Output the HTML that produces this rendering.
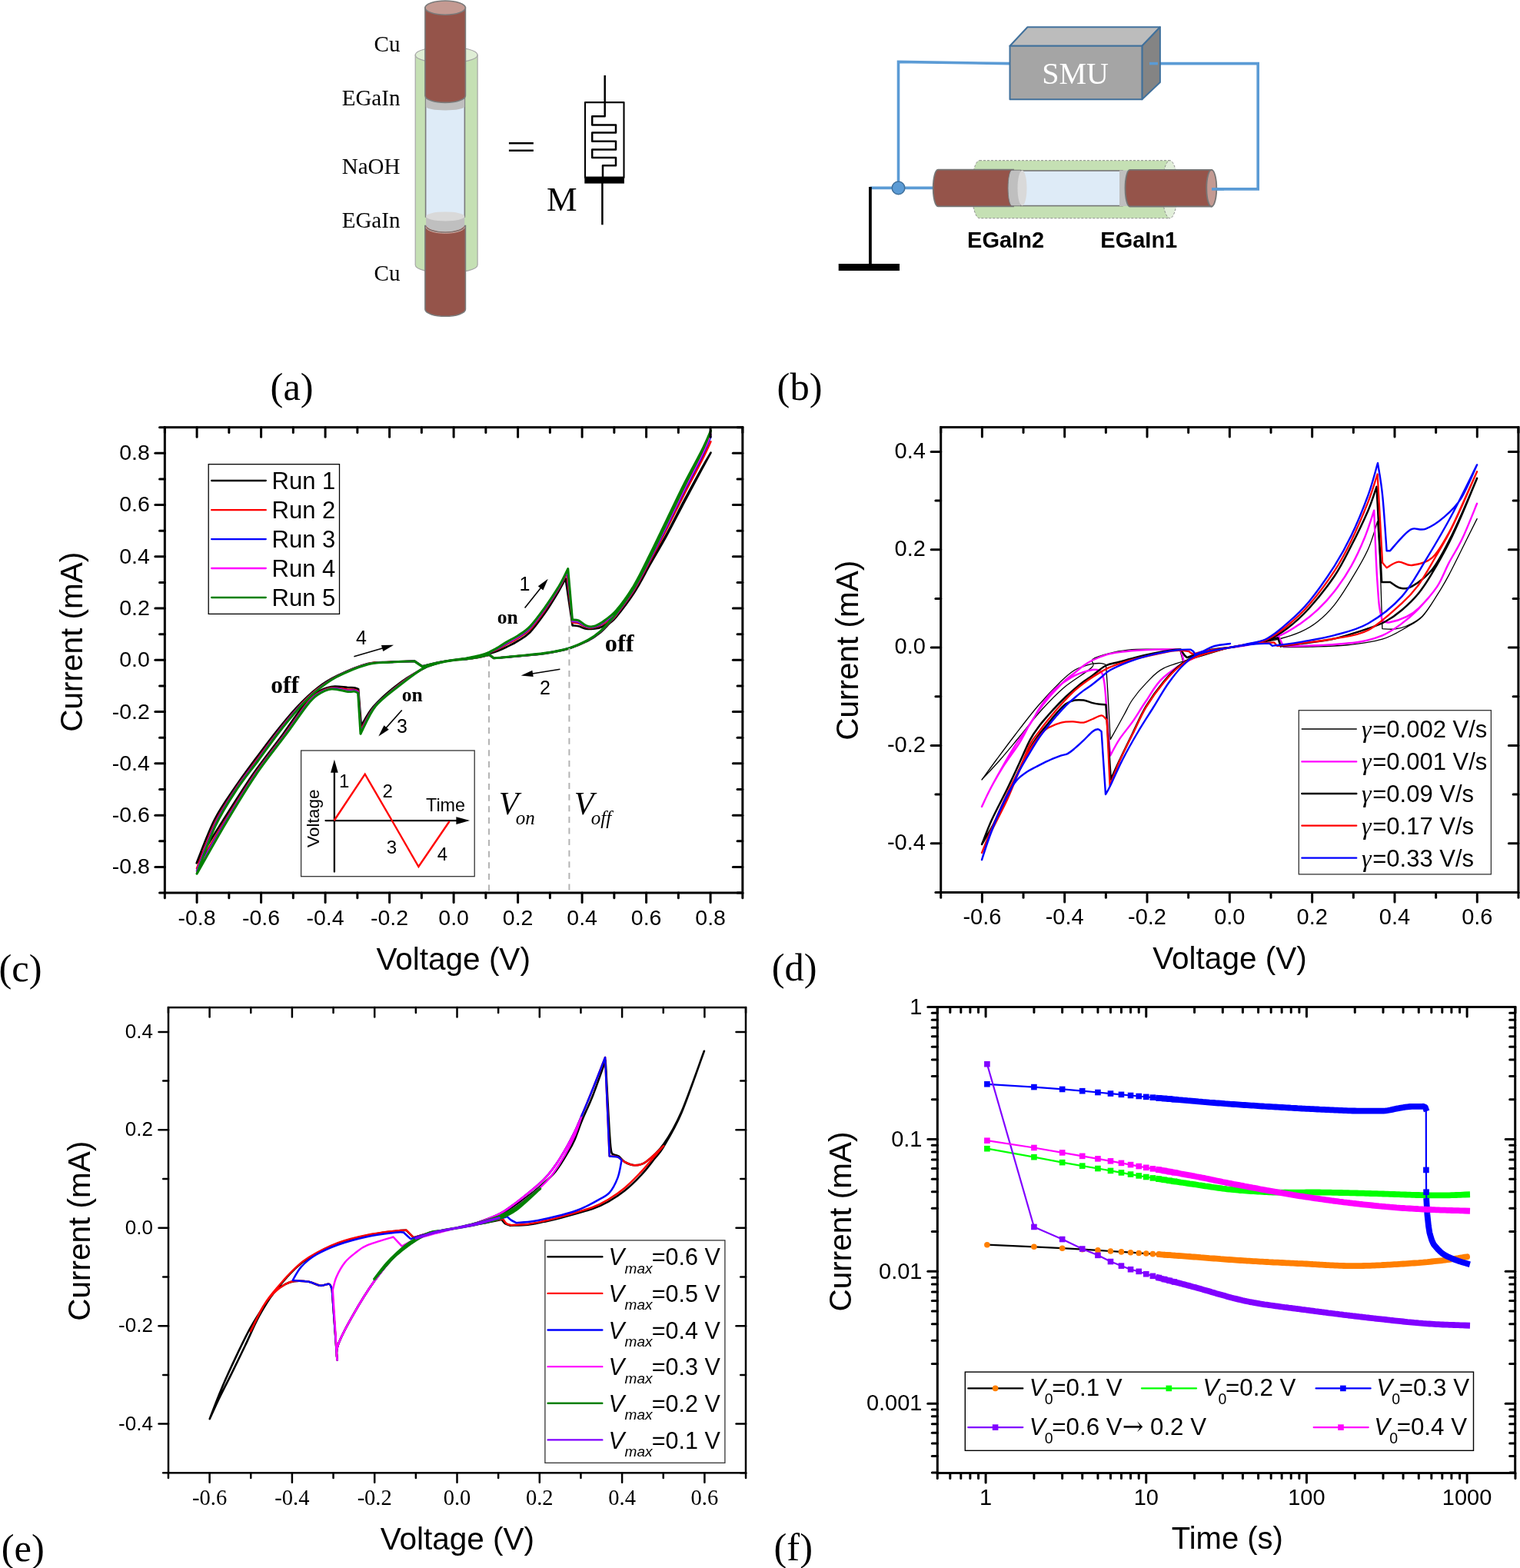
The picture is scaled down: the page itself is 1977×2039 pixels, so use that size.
<!DOCTYPE html>
<html><head><meta charset="utf-8"><title>Figure</title><style>html,body{margin:0;padding:0;background:#fff;overflow:hidden}svg{display:block}</style></head><body>
<svg width="1977" height="2039" viewBox="0 0 1977 2039">
<rect width="1977" height="2039" fill="#fff"/>
<path d="M540.1999999999999,71.4 L540.1999999999999,344.5 A40.45,10.5 0 0 0 621.1,344.5 L621.1,71.4 Z" fill="#c5e0b4" stroke="#a5a5a5" stroke-width="1.2"/>
<ellipse cx="580.65" cy="71.4" rx="40.45" ry="10.5" fill="#dfeed5" stroke="#a5a5a5" stroke-width="1.2"/>
<rect x="553.6" y="128" width="50.8" height="154" fill="#deebf7" stroke="#7a7a7a" stroke-width="1.6"/>
<path d="M553.9,124 L553.9,138.3 A25.15,5.1 0 0 0 604.2,138.3 L604.2,124 Z" fill="#bfbfbf"/>
<path d="M552.9,10.1 L552.9,124.4 A26.25,9 0 0 0 605.4,124.4 L605.4,10.1 Z" fill="#95544a" stroke="#7a7a7a" stroke-width="1.6"/>
<ellipse cx="579.15" cy="10.1" rx="26.25" ry="9.1" fill="#c49a92" stroke="#7a7a7a" stroke-width="1.6"/>
<path d="M552.9,293.5 L552.9,402.3 A26.25,9 0 0 0 605.4,402.3 L605.4,293.5 Z" fill="#95544a" stroke="#7a7a7a" stroke-width="1.6"/>
<path d="M554.1,281.4 L554.1,292.4 A25.05,9 0 0 0 604.2,292.4 L604.2,281.4 Z" fill="#bfbfbf"/>
<path d="M552.9,293.5 A26.25,9 0 0 0 605.4,293.5" fill="none" stroke="#7a7a7a" stroke-width="1.6"/>
<path d="M554.1,295.3 A25.05,8 0 0 0 604.1999999999999,295.3" fill="none" stroke="#d8a89e" stroke-width="1"/>
<ellipse cx="579.15" cy="281.4" rx="25.05" ry="6" fill="#d9d9d9"/>
<text x="520.4" y="67" font-family="'Liberation Serif', 'Times New Roman', serif" font-size="29" text-anchor="end" >Cu</text>
<text x="520.4" y="137" font-family="'Liberation Serif', 'Times New Roman', serif" font-size="29" text-anchor="end" >EGaIn</text>
<text x="520.4" y="226.1" font-family="'Liberation Serif', 'Times New Roman', serif" font-size="29" text-anchor="end" >NaOH</text>
<text x="520.4" y="295.6" font-family="'Liberation Serif', 'Times New Roman', serif" font-size="29" text-anchor="end" >EGaIn</text>
<text x="520.4" y="365" font-family="'Liberation Serif', 'Times New Roman', serif" font-size="29" text-anchor="end" >Cu</text>
<text x="0" y="0" font-family="'Liberation Serif', 'Times New Roman', serif" font-size="48" transform="translate(658.5,206.8) scale(1.43,1)">=</text>
<g fill="none" stroke="#000" stroke-linejoin="round">
<rect x="761" y="133.1" width="50.5" height="98" stroke-width="2.1"/>
<rect x="760.3" y="229.6" width="51.6" height="9" fill="#000" stroke="none"/>
<path d="M786.7,98 L786.7,151.3 L770.2,151.3 L770.2,162.5 L801,162.5 L801,172.6 L770.2,172.6 L770.2,183.8 L801,183.8 L801,194.5 L770.2,194.5 L770.2,205.1 L801,205.1 L801,215.2 L784,215.2 L784,230" stroke-width="2.5"/>
<line x1="783.4" y1="238" x2="783.4" y2="292.3" stroke-width="2.5"/>
</g>
<text x="711" y="273.6" font-family="'Liberation Serif', 'Times New Roman', serif" font-size="44.5" >M</text>
<path d="M1313.5,82.6 L1168.5,80.4 L1168.5,244.4" fill="none" stroke="#5b9bd5" stroke-width="3.6"/>
<path d="M1495,82.6 L1636.2,82.6 L1636.2,245.9 L1576,245.9" fill="none" stroke="#5b9bd5" stroke-width="3.6"/>
<line x1="1131.9" y1="244.4" x2="1216" y2="244.4" stroke="#5b9bd5" stroke-width="3.6"/>
<line x1="1131.9" y1="243" x2="1131.9" y2="345" stroke="#000" stroke-width="3.8"/>
<rect x="1090.7" y="343" width="79.3" height="9" fill="#000"/>
<circle cx="1168.5" cy="244.4" r="8.3" fill="#5b9bd5" stroke="#41719c" stroke-width="1.5"/>
<g stroke="#41719c" stroke-width="2" stroke-linejoin="round">
<polygon points="1313.5,59.7 1336.4,35.3 1508.9,35.3 1485.4,59.7" fill="#bcbcbc"/>
<polygon points="1485.4,59.7 1508.9,35.3 1508.9,107 1485.4,129.3" fill="#848484"/>
<rect x="1313.5" y="59.7" width="171.9" height="69.6" fill="#a5a5a5"/>
</g>
<line x1="1495" y1="82.6" x2="1506" y2="82.6" stroke="#5b9bd5" stroke-width="3.6"/>
<text x="1355.2" y="109.1" font-family="'Liberation Serif', 'Times New Roman', serif" font-size="40" fill="#ffffff" >SMU</text>
<path d="M1274,208.7 L1521.6,208.7 L1521.6,283.8 L1274,283.8 A10,37.55 0 0 1 1274,208.7 Z" fill="#c5e0b4" stroke="#8c8c8c" stroke-width="1" stroke-dasharray="3,2"/>
<ellipse cx="1521.6" cy="246.25" rx="10" ry="37.55" fill="#e2efda" stroke="#8c8c8c" stroke-width="1" stroke-dasharray="3,2"/>
<path d="M1220,220.7 L1318,220.7 L1318,268.3 L1220,268.3 A6.3,23.8 0 0 1 1220,220.7 Z" fill="#95544a" stroke="#767676" stroke-width="1.8"/>
<rect x="1328" y="222" width="132" height="45.6" fill="#deebf7" stroke="#767676" stroke-width="1.6"/>
<path d="M1316,221.2 L1328,221.2 L1328,267.8 L1316,267.8 A5,23.3 0 0 1 1316,221.2 Z" fill="#bfbfbf" stroke="#767676" stroke-width="1"/>
<ellipse cx="1329.5" cy="244.5" rx="6" ry="23" fill="#d9d9d9"/>
<rect x="1456" y="221.5" width="13" height="46.5" fill="#bfbfbf"/>
<path d="M1469.5,220.9 L1575.8,220.9 L1575.8,268.5 L1469.5,268.5 A6,23.8 0 0 1 1469.5,220.9 Z" fill="#95544a" stroke="#767676" stroke-width="1.8"/>
<ellipse cx="1575.8" cy="244.7" rx="6.5" ry="23.8" fill="#c49a92" stroke="#767676" stroke-width="1.8"/>
<line x1="1576" y1="245.9" x2="1592" y2="245.9" stroke="#5b9bd5" stroke-width="3.6"/>
<text x="1258.1" y="322.2" font-family="'Liberation Sans', Arial, sans-serif" font-size="29" font-weight="bold" >EGaIn2</text>
<text x="1431.3" y="322.2" font-family="'Liberation Sans', Arial, sans-serif" font-size="29" font-weight="bold" >EGaIn1</text>
<text x="351.6" y="520.3" font-family="'Liberation Serif', 'Times New Roman', serif" font-size="50.5" >(a)</text>
<text x="1010.6" y="520.3" font-family="'Liberation Serif', 'Times New Roman', serif" font-size="50.5" >(b)</text>
<path d="M590.1,858.4C592.9,858 601.2,857.1 606.8,856.3C612.4,855.5 618.6,854.7 623.5,853.6C628.4,852.6 632.3,851.2 636.4,849.9C640.6,848.7 644.8,847.4 648.6,845.9C652.3,844.4 654.8,843.3 659,841.2C663.2,839.1 668.5,836.7 673.6,833.5C678.7,830.3 683.7,828 689.5,822C695.2,816.1 702.2,806.4 708.3,797.8C714.3,789.2 721.2,777.9 725.8,770.2C730.3,762.6 734,755.1 735.6,752.1C737.1,762.3 743.1,803.1 744.6,813.3C745.9,813.5 749.5,813.6 752.5,814.3C755.5,815 759.3,817.1 762.5,817.7C765.7,818.2 768.3,818.1 771.7,817.7C775.1,817.2 778,817.7 783,815C787.9,812.2 794.5,808.6 801.4,801.2C808.2,793.7 816.9,781.7 824.3,770.2C831.7,758.7 838.5,744.8 845.6,732.2C852.7,719.6 859.7,708.2 867.1,694.6C874.5,681 882.5,664.8 890.1,650.5C897.7,636.2 907.1,619.1 912.8,608.8C918.6,598.5 922.6,592 924.5,588.6C922.6,592.2 918.6,599.5 912.8,610.2C907.1,620.8 897.7,638.2 890.1,652.5C882.5,666.9 874.5,682.7 867.1,696.3C859.7,709.8 852.7,721.4 845.6,733.9C838.5,746.5 831.7,760.2 824.3,771.6C816.9,783 806.6,796.1 801.4,802.5C796.1,809 796.4,807 793,810.3C789.6,813.6 785.6,818.5 780.9,822.4C776.2,826.2 771.4,829.8 764.6,833.3C757.8,836.8 749.4,840.6 740,843.4C730.6,846.1 719.7,848.1 708.3,849.8C696.8,851.4 682.5,852.3 671.5,853.4C660.5,854.4 647.2,855.6 642.3,856C641.3,855.3 637.4,852.4 636.4,851.6C634.3,852.1 628.4,853.8 623.5,854.7C618.6,855.5 612.4,856.4 606.8,857C601.2,857.6 596.4,857.5 590.1,858.4C583.8,859.2 576.2,860.4 569.2,862.4C562.3,864.4 557.4,865.5 548.4,870.5C539.3,875.4 525.4,883.9 515,892C504.5,900.1 493.2,910.3 485.7,918.9C478.2,927.5 472.5,939.6 469.9,943.8C469.2,935.8 466.7,904 466.1,896C465.2,895.7 463,894.7 460.7,894.3C458.4,894 457.3,894.2 452.3,894C447.4,893.8 438,891.8 431,893C424.1,894.2 416.4,897.6 410.6,901.4C404.7,905.2 403,906.7 396,915.5C388.9,924.3 379.6,938.9 368.4,954.2C357.2,969.5 342,988.3 328.7,1007.3C315.5,1026.4 301.3,1049.4 289.1,1068.5C276.9,1087.7 261.2,1113.4 255.7,1122.3C259.6,1112.9 270.6,1082.4 279.1,1065.8C287.5,1049.3 297.2,1036.4 306.2,1023.1C315.2,1009.9 324.1,998.1 332.9,986.1C341.8,974.2 350.4,962.5 359.2,951.5C368.1,940.5 377,929.4 385.9,919.9C394.8,910.4 403.8,901.6 412.7,894.7C421.5,887.8 428,883.8 439,878.5C449.9,873.3 466.9,866 478.2,863.1C489.5,860.1 496.4,861.4 506.6,860.9C516.8,860.3 533.7,859.9 539.2,859.7C540.8,860.8 547.5,865.3 549.2,866.4C552.5,865.6 562.4,863.1 569.2,861.7C576,860.4 586.6,858.9 590.1,858.4" fill="none" stroke="#000000" stroke-width="2.7" stroke-linejoin="round" stroke-linecap="round" />
<path d="M590.1,858.4C592.9,858 601.2,857 606.8,856.2C612.4,855.3 618.6,854.3 623.5,853.1C628.4,851.9 632.3,850.6 636.4,849C640.6,847.4 644.8,845.6 648.6,843.7C652.3,841.9 654.8,840.3 659,838C663.2,835.7 668.5,833.4 673.6,830.1C678.7,826.8 683.7,824.3 689.5,818.3C695.2,812.3 702.1,802.9 708.3,794.2C714.4,785.5 721.8,773.9 726.6,765.9C731.4,757.8 735.4,749.2 737.2,745.9C738.4,756.5 743.3,799 744.5,809.6C745.8,809.8 749.5,809.6 752.5,810.6C755.5,811.6 759.3,814.7 762.5,815.6C765.7,816.6 768.3,816.7 771.7,816.1C775.1,815.6 778,815.2 783,812.1C787.9,809 794.5,805.3 801.4,797.6C808.2,790 816.9,778 824.3,766.1C831.7,754.3 838.5,740 845.6,726.5C852.7,713.1 859.7,700 867.1,685.5C874.5,671 882.5,654.4 890.1,639.8C897.7,625.1 907.1,608.3 912.8,597.4C918.6,586.5 922.6,578.2 924.5,574.3C922.6,578.4 918.6,587.5 912.8,598.9C907.1,610.2 897.7,627.6 890.1,642.4C882.5,657.3 874.5,673.7 867.1,688.2C859.7,702.6 852.7,715.9 845.6,729.2C838.5,742.6 831.7,756.4 824.3,768.2C816.9,780 806.6,793.4 801.4,800.2C796.1,807 796.4,805.5 793,809.1C789.6,812.7 785.6,817.6 780.9,821.6C776.2,825.5 771.4,829.2 764.6,832.8C757.8,836.4 749.4,840.3 740,843.1C730.6,845.9 719.7,847.9 708.3,849.6C696.8,851.3 682.5,852.2 671.5,853.3C660.5,854.3 647.2,855.5 642.3,855.9C641.3,855.2 637.4,852.2 636.4,851.5C634.3,852 628.4,853.6 623.5,854.5C618.6,855.4 612.4,856.4 606.8,857C601.2,857.6 596.4,857.5 590.1,858.4C583.8,859.2 576.1,860.4 569.2,862.4C562.3,864.3 557.5,865.2 548.8,870.1C540,875.1 527.1,883.9 516.8,892C506.5,900.1 494.9,909.2 487,918.7C479.1,928.2 472.4,943.9 469.4,949C468.9,940.6 466.5,906.9 465.9,898.5C465,898.2 462.9,897 460.7,896.7C458.4,896.4 457.3,897.1 452.3,896.7C447.4,896.3 437.8,893.5 431,894.5C424.2,895.5 417.2,898.9 411.6,902.6C406.1,906.2 404.5,907.8 397.6,916.4C390.8,925 381.6,939 370.5,954.2C359.4,969.4 344.1,988.1 330.8,1007.3C317.6,1026.6 303.7,1049.4 291.2,1069.7C278.7,1090 261.8,1119.3 255.9,1129.2C259.9,1119.3 271.2,1087.1 279.7,1069.7C288.2,1052.3 298,1038.5 307,1024.8C316.1,1011.2 325.3,999.8 334.2,987.8C343,975.8 351.5,964 360.3,952.9C369,941.7 378.2,930.4 386.8,921.1C395.3,911.8 403.1,903.9 411.6,897C420.2,890.1 427,885.1 438.1,879.5C449.2,873.9 466.8,866.6 478.2,863.5C489.6,860.4 496.4,861.7 506.6,861C516.8,860.4 533.7,860 539.2,859.8C540.8,860.9 547.5,865.5 549.2,866.6C552.5,865.8 562.4,863.1 569.2,861.7C576,860.3 586.6,858.9 590.1,858.4" fill="none" stroke="#ff0000" stroke-width="2.4" stroke-linejoin="round" stroke-linecap="round" />
<path d="M590.1,858.4C592.9,858 601.2,857 606.8,856.1C612.4,855.2 618.6,854.2 623.5,852.9C628.4,851.7 632.3,850.3 636.4,848.6C640.6,846.9 644.8,844.8 648.6,842.8C652.3,840.8 654.8,839 659,836.6C663.2,834.2 668.5,831.9 673.6,828.6C678.7,825.3 683.7,822.7 689.5,816.7C695.2,810.7 702,801.4 708.3,792.6C714.5,783.8 722.1,772.2 727,763.9C731.9,755.7 736,746.6 737.9,743.1C739,753.9 743.4,797.2 744.5,808C745.8,808.1 749.5,807.8 752.5,809C755.5,810.1 759.3,813.7 762.5,814.8C765.7,815.8 768.3,816.1 771.7,815.5C775.1,814.8 778,814.1 783,810.9C787.9,807.6 794.5,803.9 801.4,796.1C808.2,788.3 816.9,776.3 824.3,764.3C831.7,752.3 838.5,737.8 845.6,724C852.7,710.2 859.7,696.3 867.1,681.5C874.5,666.7 882.5,649.9 890.1,635C897.7,620.2 907.1,603.5 912.8,592.4C918.6,581.2 922.6,572.1 924.5,568.1C922.6,572.4 918.6,582.3 912.8,593.9C907.1,605.6 897.7,622.9 890.1,638C882.5,653.1 874.5,669.8 867.1,684.6C859.7,699.5 852.7,713.5 845.6,727.1C838.5,740.8 831.7,754.7 824.3,766.7C816.9,778.7 806.6,792.2 801.4,799.1C796.1,806.1 796.4,804.9 793,808.6C789.6,812.3 785.6,817.2 780.9,821.3C776.2,825.3 771.4,829 764.6,832.6C757.8,836.2 749.4,840.2 740,843C730.6,845.8 719.7,847.8 708.3,849.5C696.8,851.2 682.5,852.2 671.5,853.3C660.5,854.3 647.2,855.4 642.3,855.9C641.3,855.1 637.4,852.1 636.4,851.4C634.3,851.9 628.4,853.5 623.5,854.4C618.6,855.3 612.4,856.3 606.8,857C601.2,857.7 596.4,857.5 590.1,858.4C583.8,859.2 576.1,860.4 569.2,862.4C562.4,864.3 557.5,865 549,870C540.4,874.9 527.9,883.9 517.7,892C507.4,900.1 495.6,908.8 487.5,918.6C479.5,928.5 472.3,945.8 469.3,951.3C468.7,942.7 466.4,908.3 465.8,899.6C464.9,899.3 462.9,898 460.7,897.7C458.4,897.4 457.3,898.3 452.3,897.9C447.4,897.4 437.7,894.3 431,895.2C424.3,896 417.5,899.5 412.1,903.1C406.6,906.7 405.1,908.2 398.4,916.7C391.6,925.2 382.5,939.1 371.4,954.2C360.3,969.3 345,988 331.8,1007.3C318.5,1026.7 304.7,1049.4 292.1,1070.2C279.5,1091.1 262,1121.9 256,1132.3C260,1122.1 271.4,1089.2 280,1071.4C288.5,1053.6 298.3,1039.4 307.4,1025.6C316.5,1011.7 325.8,1000.6 334.7,988.6C343.6,976.5 352,964.6 360.7,953.4C369.5,942.3 378.7,930.8 387.1,921.6C395.6,912.4 402.7,905 411.2,898.1C419.6,891.1 426.6,885.7 437.8,880C448.9,874.2 466.7,866.8 478.2,863.7C489.7,860.5 496.4,861.8 506.6,861.1C516.8,860.5 533.7,860 539.2,859.8C540.8,861 547.5,865.5 549.2,866.7C552.5,865.8 562.4,863.1 569.2,861.7C576,860.3 586.6,858.9 590.1,858.4" fill="none" stroke="#0000ff" stroke-width="2.4" stroke-linejoin="round" stroke-linecap="round" />
<path d="M590.1,858.4C592.9,858 601.2,857 606.8,856.1C612.4,855.1 618.6,854.1 623.5,852.8C628.4,851.5 632.3,850.2 636.4,848.4C640.6,846.7 644.8,844.4 648.6,842.3C652.3,840.2 654.8,838.4 659,836C663.2,833.6 668.5,831.3 673.6,827.9C678.7,824.6 683.7,822 689.5,816C695.2,810 702,800.7 708.3,791.9C714.5,783.1 722.2,771.4 727.2,763.1C732.1,754.7 736.3,745.4 738.2,741.9C739.2,752.8 743.4,796.3 744.4,807.2C745.8,807.4 749.5,807 752.5,808.2C755.5,809.4 759.3,813.2 762.5,814.3C765.7,815.5 768.3,815.9 771.7,815.2C775.1,814.5 778,813.6 783,810.3C787.9,807 794.5,803.2 801.4,795.4C808.2,787.6 816.9,775.6 824.3,763.5C831.7,751.4 838.5,736.8 845.6,722.9C852.7,708.9 859.7,694.7 867.1,679.7C874.5,664.7 882.5,647.8 890.1,632.9C897.7,617.9 907.1,601.3 912.8,590.1C918.6,578.8 922.6,569.3 924.5,565.2C922.6,569.6 918.6,579.9 912.8,591.7C907.1,603.5 897.7,620.8 890.1,636C882.5,651.2 874.5,668 867.1,683C859.7,698.1 852.7,712.4 845.6,726.2C838.5,740 831.7,754 824.3,766.1C816.9,778.1 806.6,791.6 801.4,798.7C796.1,805.7 796.4,804.6 793,808.3C789.6,812.1 785.6,817.1 780.9,821.1C776.2,825.1 771.4,828.9 764.6,832.5C757.8,836.2 749.4,840.1 740,843C730.6,845.8 719.7,847.8 708.3,849.5C696.8,851.2 682.5,852.2 671.5,853.2C660.5,854.3 647.2,855.4 642.3,855.9C641.3,855.1 637.4,852.1 636.4,851.3C634.3,851.9 628.4,853.4 623.5,854.4C618.6,855.3 612.4,856.3 606.8,857C601.2,857.7 596.4,857.5 590.1,858.4C583.8,859.2 576.1,860.5 569.2,862.4C562.4,864.3 557.6,865 549,869.9C540.5,874.8 528.2,883.9 518,892C507.8,900.1 495.9,908.6 487.8,918.6C479.6,928.7 472.3,946.7 469.2,952.3C468.6,943.6 466.3,908.8 465.8,900.2C464.9,899.8 462.9,898.5 460.7,898.2C458.4,897.9 457.3,898.9 452.3,898.4C447.4,898 437.7,894.7 431,895.5C424.4,896.3 417.7,899.8 412.3,903.3C406.9,906.9 405.4,908.4 398.7,916.9C392,925.4 382.9,939.1 371.8,954.2C360.7,969.3 345.4,988 332.2,1007.3C318.9,1026.7 305.2,1049.4 292.5,1070.5C279.8,1091.5 262.1,1123.1 256,1133.7C260,1123.4 271.5,1090.1 280.1,1072.2C288.7,1054.2 298.4,1039.8 307.6,1025.9C316.7,1012 326.1,1000.9 335,988.9C343.9,976.9 352.2,964.9 360.9,953.7C369.7,942.5 379,931 387.3,921.8C395.6,912.6 402.6,905.5 411,898.5C419.3,891.6 426.4,886 437.6,880.2C448.8,874.4 466.7,866.9 478.2,863.7C489.7,860.6 496.4,861.8 506.6,861.1C516.8,860.5 533.7,860.1 539.2,859.8C540.8,861 547.5,865.6 549.2,866.7C552.5,865.9 562.4,863.1 569.2,861.7C576,860.3 586.6,858.9 590.1,858.4" fill="none" stroke="#ff00ff" stroke-width="2.4" stroke-linejoin="round" stroke-linecap="round" />
<path d="M590.1,858.4C592.9,858 601.2,856.9 606.8,856C612.4,855 618.6,854 623.5,852.6C628.4,851.3 632.3,849.9 636.4,848.1C640.6,846.2 644.8,843.7 648.6,841.5C652.3,839.3 654.8,837.3 659,834.8C663.2,832.3 668.5,830.1 673.6,826.7C678.7,823.4 683.7,820.7 689.5,814.6C695.2,808.6 701.9,799.4 708.3,790.6C714.6,781.7 722.4,770 727.5,761.5C732.5,753 736.9,743.3 738.7,739.6C739.7,750.7 743.5,794.8 744.4,805.9C745.8,806.1 749.5,805.6 752.5,806.9C755.5,808.2 759.3,812.3 762.5,813.6C765.7,814.9 768.3,815.4 771.7,814.6C775.1,813.9 778,812.7 783,809.3C787.9,805.8 794.5,802 801.4,794.1C808.2,786.2 816.9,774.2 824.3,762C831.7,749.8 838.5,735.1 845.6,720.8C852.7,706.5 859.7,691.7 867.1,676.4C874.5,661.1 882.5,644.1 890.1,629C897.7,613.9 907.1,597.4 912.8,585.9C918.6,574.5 922.6,564.4 924.5,560.1C922.6,564.6 918.6,575.6 912.8,587.6C907.1,599.7 897.7,616.9 890.1,632.4C882.5,647.8 874.5,664.8 867.1,680.1C859.7,695.5 852.7,710.4 845.6,724.5C838.5,738.6 831.7,752.6 824.3,764.9C816.9,777.1 806.6,790.6 801.4,797.8C796.1,805 796.4,804.1 793,807.9C789.6,811.7 785.6,816.7 780.9,820.8C776.2,824.9 771.4,828.7 764.6,832.4C757.8,836 749.4,840 740,842.9C730.6,845.7 719.7,847.7 708.3,849.4C696.8,851.2 682.5,852.1 671.5,853.2C660.5,854.3 647.2,855.4 642.3,855.8C641.3,855.1 637.4,852 636.4,851.3C634.3,851.8 628.4,853.4 623.5,854.3C618.6,855.3 612.4,856.3 606.8,857C601.2,857.7 596.4,857.5 590.1,858.4C583.8,859.2 576,860.5 569.2,862.4C562.4,864.3 557.6,864.9 549.2,869.8C540.8,874.7 528.9,883.9 518.7,892C508.5,900.1 496.5,908.2 488.2,918.5C479.9,928.9 472.2,948.3 469,954.2C468.5,945.3 466.2,909.9 465.7,901.1C464.9,900.7 462.9,899.3 460.7,899C458.4,898.8 457.3,899.9 452.3,899.4C447.4,898.9 437.6,895.3 431,896C424.4,896.7 418,900.2 412.7,903.8C407.4,907.3 406,908.8 399.3,917.2C392.6,925.6 383.6,939.2 372.6,954.2C361.5,969.2 346.1,987.9 332.9,1007.3C319.7,1026.8 306.1,1049.4 293.3,1070.9C280.5,1092.4 262.3,1125.3 256.1,1136.1C260.1,1125.7 271.7,1091.9 280.3,1073.6C288.9,1055.3 298.7,1040.5 307.9,1026.5C317.1,1012.5 326.5,1001.6 335.4,989.5C344.3,977.5 352.6,965.4 361.3,954.2C370,943 379.4,931.4 387.6,922.2C395.8,913.1 402.3,906.3 410.6,899.4C418.9,892.4 426,886.5 437.3,880.5C448.6,874.6 466.7,867.1 478.2,863.9C489.8,860.7 496.4,861.9 506.6,861.2C516.8,860.5 533.7,860.1 539.2,859.9C540.8,861 547.5,865.6 549.2,866.8C552.5,865.9 562.4,863.1 569.2,861.7C576,860.3 586.6,858.9 590.1,858.4" fill="none" stroke="#008000" stroke-width="3.1" stroke-linejoin="round" stroke-linecap="round" />
<path d="M1599.3,842.1C1603.7,841.4 1614.8,840.1 1625.8,838.1C1636.9,836.2 1654.4,833.2 1665.4,830.5C1676.3,827.7 1683.6,825.3 1691.7,821.7C1699.7,818 1706.3,814.4 1713.6,808.5C1721,802.7 1728.3,795.7 1735.6,786.6C1742.9,777.4 1750.2,765.7 1757.5,753.6C1764.9,741.6 1773.8,726.8 1779.5,714.1C1785.2,701.5 1789.6,684 1791.6,677.9C1792,684.2 1793.3,704.2 1794,715.8C1794.6,727.4 1795,734.2 1795.5,747.4C1796.1,760.5 1796.7,783 1797.1,794.7C1797.5,806.5 1797.8,813.8 1797.9,817.6C1800.5,817.7 1808.4,818.7 1813.7,818.1C1819,817.5 1823.4,816.8 1829.5,814C1835.5,811.2 1843.4,807.7 1850,801.1C1856.6,794.4 1863.2,783.2 1869,774.2C1874.7,765.3 1878.2,759.7 1884.7,747.4C1891.3,735 1902.4,712.1 1908.4,700C1914.5,687.9 1919,678.8 1921.1,674.6C1919,678.8 1914.5,687.9 1908.4,700C1902.4,712.1 1891.3,735 1884.7,747.4C1878.2,759.7 1874.7,765.1 1869,774.2C1863.2,783.3 1856.6,795 1850,801.8C1843.4,808.7 1838.2,810.7 1829.5,815.6C1820.8,820.5 1811.1,827.2 1797.9,831.1C1784.7,835 1766.3,837.3 1750.5,839C1734.7,840.6 1716.7,840.6 1703.2,841C1689.6,841.5 1674.9,841.5 1669.2,841.6C1668.2,839.4 1663.9,830.5 1662.9,828.2C1659.1,829.1 1646.2,831.8 1640,833.4C1633.8,835.1 1632.6,836.7 1625.8,838.1C1619.1,839.6 1603.7,841.5 1599.3,842.1C1594.9,842.7 1605.9,840 1599.4,842C1592.9,844 1574.3,849.5 1560,854C1545.7,858.5 1525.3,863.2 1513.7,868.9C1502.1,874.7 1497.3,881.9 1490.5,888.6C1483.8,895.4 1478,902.5 1473.2,909.5C1468.3,916.4 1466.4,921.6 1461.6,930.3C1456.8,939 1447.1,956.4 1444.2,961.6C1443.6,951 1441.7,914.1 1440.7,897.9C1439.8,881.7 1438.8,869.9 1438.4,864.3C1437.5,864 1435.5,862.8 1432.6,862.6C1429.7,862.4 1424.9,862.5 1421.1,863.2C1417.2,863.8 1413.3,865.3 1409.5,866.6C1405.6,868 1402.8,868 1397.9,871.3C1393,874.5 1388,878.2 1380,886C1372,893.8 1360,906.3 1350,918C1340,929.7 1329,944.3 1320,956C1311,967.7 1303.2,978.3 1296,988C1288.8,997.7 1280.2,1009.7 1277,1014C1280.8,1009.8 1291.8,998.3 1300,989C1308.2,979.7 1317,968.8 1326,958C1335,947.2 1344.3,934.7 1354,924C1363.7,913.3 1373,903.3 1384,894C1395,884.7 1413.8,874.1 1420,868C1426.2,861.9 1417,860.5 1421.1,857.4C1425.1,854.2 1436.5,851.3 1444.2,849.3C1451.9,847.2 1459.7,846.1 1467.4,845.2C1475.1,844.3 1479.3,844.1 1490.5,844.1C1501.7,844 1527.2,844.5 1534.5,844.6C1535.3,847.5 1538.4,859.1 1539.2,862C1544.6,859.7 1562,851.3 1572,848C1582,844.7 1594.8,843 1599.4,842" fill="none" stroke="#000000" stroke-width="1.3" stroke-linejoin="round" stroke-linecap="round" />
<path d="M1599.3,842.1C1603.7,841.4 1614.8,840.8 1625.8,838.1C1636.9,835.5 1654.4,830.6 1665.4,826.1C1676.3,821.5 1683.6,816.2 1691.7,810.7C1699.7,805.2 1706.3,800.1 1713.6,793.2C1721,786.2 1728.3,778.5 1735.6,769C1742.9,759.5 1751,747.8 1757.5,736.1C1764.1,724.4 1770.2,710.8 1775.1,698.8C1780,686.7 1785.2,669.5 1787.2,663.7C1787.6,675 1789.2,715 1790,731.6C1790.8,748.2 1791.2,753.7 1791.9,763.2C1792.6,772.6 1793,781.1 1794,788.4C1795,795.8 1797.2,804.2 1797.9,807.4C1799.5,807.7 1802.1,810.2 1807.4,809.3C1812.6,808.3 1823.2,804.9 1829.5,801.8C1835.8,798.8 1838.7,797.2 1845.3,790.8C1851.9,784.3 1862.4,773 1869,763.2C1875.5,753.3 1879.2,742.1 1884.7,731.6C1890.3,721.1 1896.1,712.8 1902.1,700C1908.2,687.2 1917.9,662.4 1921.1,654.8C1917.9,662.4 1908.2,687.2 1902.1,700C1896.1,712.8 1890.3,721.1 1884.7,731.6C1879.2,742.1 1875.8,752.9 1869,763.2C1862.1,773.4 1851.6,785 1843.7,793.2C1835.8,801.3 1829.2,806.6 1821.6,812.1C1814,817.6 1807.1,822.5 1797.9,826.3C1788.7,830.1 1779.5,832.9 1766.3,835C1753.2,837.1 1735.1,838 1719,839C1702.8,839.9 1677.5,840.3 1669.2,840.5C1668.3,838.6 1664.6,830.7 1663.7,828.7C1659.7,829.6 1646.3,832.6 1640,834.2C1633.7,835.8 1632.6,836.8 1625.8,838.1C1619.1,839.5 1603.7,841.5 1599.3,842.1C1594.9,842.7 1605.9,840.5 1599.4,842C1592.9,843.5 1574.3,844.6 1560,851C1545.7,857.4 1525.3,870.4 1513.7,880.5C1502.1,890.7 1497.3,902.1 1490.5,911.8C1483.8,921.4 1479,930.1 1473.2,938.4C1467.4,946.7 1460.6,954.3 1455.8,961.6C1451,968.9 1446.1,979 1444.2,982.4C1443.6,976.1 1441.7,956.4 1440.7,944.2C1439.8,932.1 1439.2,919.1 1438.4,909.5C1437.7,899.8 1437.1,892.2 1436.1,886.3C1435.1,880.4 1434.2,876.7 1432.6,874.2C1431.1,871.6 1428.8,871.6 1426.8,871C1424.9,870.5 1424,870.6 1421.1,871C1418.2,871.5 1413.3,872.6 1409.5,873.8C1405.6,875 1401.8,876.5 1397.9,878.4C1394,880.4 1390.2,882.8 1386.3,885.4C1382.5,888 1378.6,890.5 1374.7,893.8C1370.9,897.2 1367,900.8 1363.2,905.4C1359.3,910.1 1355.4,915.7 1351.6,921.6C1347.7,927.6 1345.3,933.3 1340,941.3C1334.7,949.4 1326.7,959.6 1320,970C1313.3,980.4 1305.7,994 1300,1004C1294.3,1014 1289.8,1022.5 1286,1030C1282.2,1037.5 1278.5,1045.8 1277,1049C1278.8,1045.2 1283.5,1034.5 1288,1026C1292.5,1017.5 1297.7,1008 1304,998C1310.3,988 1320,975.5 1326,966C1332,956.5 1335.7,947.8 1340,940.7C1344.3,933.6 1347.7,928.8 1351.6,923.4C1355.4,918 1359.3,913 1363.2,908.3C1367,903.7 1370.9,899.6 1374.7,895.6C1378.6,891.5 1382.5,887.5 1386.3,884C1390.2,880.5 1394,877.8 1397.9,874.7C1401.8,871.7 1405.6,868.2 1409.5,865.5C1413.3,862.8 1416.2,860.8 1421.1,858.5C1425.9,856.2 1432.6,853.3 1438.4,851.6C1444.2,849.8 1449,849.1 1455.8,848.1C1462.5,847.1 1471.2,846.4 1479,845.8C1486.7,845.2 1492.7,844.8 1502.1,844.6C1511.6,844.4 1530.1,844.6 1535.7,844.6C1536.5,847.5 1539.6,859.1 1540.3,862C1545.6,859.5 1562.2,850.3 1572,847C1581.8,843.7 1594.8,842.8 1599.4,842" fill="none" stroke="#ff00ff" stroke-width="2.4" stroke-linejoin="round" stroke-linecap="round" />
<path d="M1599.3,842.1C1603.7,841.3 1617.8,839.1 1625.8,837.5C1633.9,835.9 1639.7,836 1647.8,832.7C1655.8,829.3 1665,824.2 1674.1,817.3C1683.3,810.3 1692.4,802.3 1702.7,791C1712.9,779.6 1726.4,762.8 1735.6,749.3C1744.7,735.7 1750.2,724 1757.5,709.7C1764.9,695.5 1774,676.5 1779.5,663.7C1785,650.8 1788.6,638 1790.5,632.9C1791.6,653.6 1796,736.3 1797.1,756.9C1798.9,756.9 1806.2,756.9 1808,756.9C1810.2,758.2 1816.4,763.7 1821.2,764.6C1825.9,765.5 1829.6,766.4 1836.6,762.4C1843.5,758.4 1854.8,750.4 1862.9,740.5C1870.9,730.6 1878.3,715.6 1884.8,703.2C1891.4,690.7 1896.4,679.4 1902.4,665.8C1908.4,652.3 1918,629.3 1921.1,621.9C1918,629.4 1908.4,653 1902.4,666.9C1896.4,680.8 1891.4,692.4 1884.8,705.4C1878.3,718.3 1869.5,733.9 1862.9,744.9C1856.3,755.8 1851.9,763.2 1845.3,771.2C1838.8,779.3 1830.7,786.9 1823.4,793.2C1816.1,799.4 1808.8,804.5 1801.4,808.5C1794.1,812.5 1790.5,813.6 1779.5,817.3C1768.5,821 1750.2,827.2 1735.6,830.5C1721,833.8 1702.7,835.5 1691.7,837.1C1680.7,838.6 1674.1,839.1 1669.7,839.7C1665.4,840.3 1666.5,840.4 1665.8,840.6C1665.2,838.7 1662.7,831.2 1662.1,829.4C1659.7,829.9 1653.8,831.3 1647.8,832.7C1641.8,834 1633.9,835.9 1625.8,837.5C1617.8,839.1 1610.3,839.7 1599.3,842.1C1588.3,844.4 1570.4,848.1 1560,851.6C1549.6,855.1 1544.6,857.4 1536.9,863.2C1529.1,868.9 1521.4,877.1 1513.7,886.3C1506,895.6 1497.3,907.5 1490.5,918.7C1483.8,929.9 1479,941.7 1473.2,953.5C1467.4,965.3 1460.5,979.3 1455.8,989.4C1451.1,999.4 1446.6,1009.6 1444.8,1013.7C1443.7,997.5 1439.5,932.6 1438.4,916.4C1437.1,916.3 1433.2,916.2 1430.3,915.8C1427.4,915.5 1424.5,915 1421.1,914.1C1417.6,913.2 1413.3,911.2 1409.5,910.6C1405.6,910.1 1401.8,909.9 1397.9,910.6C1394,911.4 1390.2,912.6 1386.3,915.3C1382.5,918 1378.6,922.6 1374.7,926.8C1370.9,931.1 1368.3,934.2 1363.2,940.7C1358,947.3 1350.2,956.1 1344,966C1337.8,975.9 1331.7,988.3 1326,1000C1320.3,1011.7 1315.7,1024 1310,1036C1304.3,1048 1297.5,1061.7 1292,1072C1286.5,1082.3 1279.5,1093.7 1277,1098C1279.2,1092.7 1284.5,1078 1290,1066C1295.5,1054 1304,1038.3 1310,1026C1316,1013.7 1321,1002.7 1326,992C1331,981.3 1335.7,969.5 1340,961.6C1344.3,953.6 1347.7,949.4 1351.6,944.2C1355.4,939 1359.3,934.8 1363.2,930.3C1367,925.9 1370.9,921.6 1374.7,917.6C1378.6,913.5 1382.5,909.7 1386.3,906C1390.2,902.3 1394,898.9 1397.9,895.6C1401.8,892.3 1405.6,889.2 1409.5,886.3C1413.3,883.4 1416.2,881.7 1421.1,878.2C1425.9,874.7 1432.6,868.4 1438.4,865.5C1444.2,862.6 1449,862.7 1455.8,860.8C1462.5,859 1471.2,856.4 1479,854.5C1486.7,852.5 1494.4,850.8 1502.1,849.3C1509.8,847.7 1519.7,846 1525.3,845.2C1530.9,844.4 1534,844.7 1535.7,844.6C1536.5,845.8 1539,849.8 1540.3,851.6C1541.7,853.3 1543.2,854.5 1543.8,855.1C1548.5,853.5 1562.7,847.8 1572,845.6C1581.3,843.4 1594.8,842.6 1599.4,842" fill="none" stroke="#000000" stroke-width="2.5" stroke-linejoin="round" stroke-linecap="round" />
<path d="M1599.3,842.1C1603.7,841.3 1617.8,838.8 1625.8,837.1C1633.9,835.3 1639.7,835.4 1647.8,831.6C1655.8,827.7 1665,821.5 1674.1,814C1683.3,806.5 1692.4,798.5 1702.7,786.6C1712.9,774.7 1726.4,756.6 1735.6,742.7C1744.7,728.8 1750.2,718.2 1757.5,703.2C1764.9,688.2 1773.8,667.1 1779.5,652.7C1785.2,638.2 1789.6,622.5 1791.6,616.5C1792.7,635.7 1797.1,712.5 1798.1,731.7C1799.1,732.8 1802.7,737.2 1803.6,738.3C1806.2,737 1813.5,731.1 1819,730.6C1824.5,730 1829.2,735.9 1836.6,735C1843.9,734.1 1854.8,732.2 1862.9,725.1C1870.9,718 1878.3,703.9 1884.8,692.2C1891.4,680.5 1896.4,668 1902.4,654.9C1908.4,641.7 1918,620.1 1921.1,613.2C1918,620.3 1908.4,642.6 1902.4,656C1896.4,669.3 1890.7,681.9 1884.8,693.3C1879,704.6 1873.9,712.9 1867.3,724C1860.7,735.2 1852.7,750.2 1845.3,760.2C1838,770.3 1834.4,774.5 1823.4,784.4C1812.4,794.2 1794.1,811.8 1779.5,819.5C1764.9,827.2 1750.2,827.6 1735.6,830.5C1721,833.3 1702.7,835.1 1691.7,836.6C1680.7,838.1 1674.8,838.7 1669.7,839.2C1664.7,839.8 1662.8,840 1661.4,840.1C1660.7,839.3 1657.7,836.1 1657,835.3C1651.8,835.7 1635.5,836.4 1625.8,837.5C1616.2,838.6 1610.3,839.6 1599.3,842.1C1588.3,844.6 1570.4,849 1560,852.7C1549.6,856.4 1544.6,858.5 1536.9,864.3C1529.1,870.1 1521.4,878.2 1513.7,887.5C1506,896.7 1497.3,908.7 1490.5,919.9C1483.8,931.1 1479,942.9 1473.2,954.6C1467.4,966.4 1460.7,979.3 1455.8,990.5C1450.9,1001.7 1445.7,1016.6 1443.6,1021.8C1443,1007.5 1440.3,950.4 1439.6,936.1C1439.4,935.9 1439.6,935.9 1438.4,935C1437.3,934 1435.5,930.3 1432.6,930.3C1429.7,930.3 1424.9,933.4 1421.1,935C1417.2,936.5 1413.7,939 1409.5,939.6C1405.2,940.2 1400.4,938.4 1395.6,938.4C1390.8,938.4 1385.9,938.2 1380.5,939.6C1375.1,940.9 1367.4,944.2 1363.2,946.5C1358.9,948.8 1358.9,948.9 1355.1,953.5C1351.2,958.1 1344.8,965.9 1340,974C1335.2,982.1 1331,991 1326,1002C1321,1013 1316,1027 1310,1040C1304,1053 1295.5,1068.5 1290,1080C1284.5,1091.5 1279.2,1104.2 1277,1109C1279.2,1103.7 1284.5,1089.8 1290,1077C1295.5,1064.2 1304,1044.8 1310,1032C1316,1019.2 1321,1010.8 1326,1000C1331,989.2 1335.7,975.5 1340,967.4C1344.3,959.2 1347.7,956.4 1351.6,951.2C1355.4,946 1359.3,940.9 1363.2,936.1C1367,931.3 1370.9,926.7 1374.7,922.2C1378.6,917.8 1382.5,913.5 1386.3,909.5C1390.2,905.4 1394,901.4 1397.9,897.9C1401.8,894.4 1405.6,891.5 1409.5,888.6C1413.3,885.7 1416.2,883.6 1421.1,880.5C1425.9,877.4 1432.6,873 1438.4,870.1C1444.2,867.2 1449,865.5 1455.8,863.2C1462.5,860.8 1471.2,858.2 1479,856.2C1486.7,854.2 1494.4,852.6 1502.1,851C1509.8,849.4 1519.5,847.2 1525.3,846.4C1531.1,845.5 1533.4,845.7 1536.9,845.8C1540.3,845.9 1544.6,846.8 1546.1,846.9C1546.9,847.5 1550,849.8 1550.7,850.4C1554.3,849.7 1563.9,847.4 1572,846C1580.1,844.6 1594.8,842.7 1599.4,842" fill="none" stroke="#ff0000" stroke-width="2.3" stroke-linejoin="round" stroke-linecap="round" />
<path d="M1599.3,842.1C1603.7,841.2 1617.8,838.5 1625.8,836.6C1633.9,834.7 1639.7,834.8 1647.8,830.5C1655.8,826.1 1665,818.8 1674.1,810.7C1683.3,802.7 1692.4,794.6 1702.7,782.2C1712.9,769.7 1726.4,750.4 1735.6,736.1C1744.7,721.8 1750.2,711.9 1757.5,696.6C1764.9,681.2 1773.7,659.6 1779.5,643.9C1785.2,628.2 1789.9,609.1 1792,602.2C1793,609.1 1796.2,624.9 1798.1,643.9C1800.1,662.9 1802.7,704.3 1803.6,716.3C1804.4,716.3 1807.3,716.3 1808,716.3C1810.6,713.4 1818.6,703.5 1823.4,698.8C1828.1,694 1831.4,689.6 1836.6,687.8C1841.7,686 1847.2,690.4 1854.1,687.8C1861.1,685.2 1870.6,679 1878.3,672.4C1885.9,665.8 1893.1,659.6 1900.2,648.3C1907.3,636.9 1917.6,611.7 1921.1,604.4C1915.8,615 1900,647.9 1889.2,668C1878.4,688.2 1867.3,707.2 1856.3,725.1C1845.3,743 1836.2,761.3 1823.4,775.6C1810.6,789.9 1794.1,802.3 1779.5,810.7C1764.9,819.1 1750.2,822.1 1735.6,826.1C1721,830.1 1702.7,832.8 1691.7,834.9C1680.7,836.9 1675.9,837.3 1669.7,838.1C1663.6,839 1657.3,839.4 1654.8,839.7C1654.1,839.2 1651.2,837.1 1650.4,836.6C1646.3,836.9 1634.4,837.2 1625.8,838.1C1617.3,839.1 1610.3,840.1 1599.3,842.1C1588.3,844.1 1569.9,846.3 1560,850C1550.1,853.7 1546.7,857.7 1540,864C1533.3,870.3 1526.7,878.7 1520,888C1513.3,897.3 1506.7,909.3 1500,920C1493.3,930.7 1486.7,940.7 1480,952C1473.3,963.3 1466,976.3 1460,988C1454,999.7 1447.7,1014.5 1444,1022C1440.3,1029.5 1439,1031.2 1438,1033C1437.1,1019.4 1433.5,964.8 1432.6,951.2C1431.9,950.7 1429.9,948.3 1428,948.3C1426.1,948.3 1424.1,948.8 1421.1,951.2C1418,953.6 1413.3,959.1 1409.5,962.7C1405.6,966.4 1401.4,970.3 1397.9,973.2C1394.4,976.1 1391.5,978.6 1388.6,980.1C1385.7,981.7 1384.8,980.9 1380.5,982.4C1376.3,984 1368.6,986.9 1363.2,989.4C1357.7,991.8 1352.5,994.6 1348,997C1343.5,999.4 1340,1000.9 1336,1003.6C1332,1006.3 1327.5,1009.4 1324,1013C1320.5,1016.6 1318,1020.2 1315,1025C1312,1029.8 1309.2,1035.5 1306,1042C1302.8,1048.5 1299.3,1056 1296,1064C1292.7,1072 1289.2,1081 1286,1090C1282.8,1099 1278.5,1113.3 1277,1118C1278.5,1113.5 1282.8,1099.8 1286,1091C1289.2,1082.2 1292.7,1073 1296,1065C1299.3,1057 1302.8,1049.5 1306,1043C1309.2,1036.5 1311.7,1032.8 1315,1026C1318.3,1019.2 1321.8,1010 1326,1002C1330.2,994 1335.7,984.9 1340,977.8C1344.3,970.7 1347.7,964.9 1351.6,959.3C1355.4,953.7 1359.3,949 1363.2,944.2C1367,939.4 1370.9,934.8 1374.7,930.3C1378.6,925.9 1382.5,921.4 1386.3,917.6C1390.2,913.7 1394,910.4 1397.9,907.2C1401.8,903.9 1405.6,900.8 1409.5,897.9C1413.3,895 1417.2,892.7 1421.1,889.8C1424.9,886.9 1428.8,883.6 1432.6,880.5C1436.5,877.4 1438.4,874.5 1444.2,871.3C1450,868 1459.7,863.8 1467.4,860.8C1475.1,857.9 1482.8,855.4 1490.5,853.3C1498.3,851.2 1506.9,849.5 1513.7,848.1C1520.4,846.8 1525.3,845.8 1531.1,845.2C1536.9,844.6 1545.5,844.7 1548.4,844.6C1549,845 1550.9,845.9 1551.9,846.9C1552.9,848 1553.8,850.3 1554.2,851C1555.8,850.3 1559.7,848.8 1564,847C1568.3,845.2 1574,841.7 1580,840C1586,838.3 1596.7,837.5 1600,837" fill="none" stroke="#0000ff" stroke-width="2.4" stroke-linejoin="round" stroke-linecap="round" />
<path d="M594.5,1596.8C598.7,1595.7 610.7,1593.4 620,1590.5C629.2,1587.6 641.3,1583.6 649.9,1579.5C658.5,1575.5 664.3,1571.1 671.6,1566.2C678.9,1561.3 687.6,1555 693.7,1550.2C699.8,1545.5 703.5,1542.1 708.4,1537.5C713.3,1532.9 718.2,1529 723.1,1522.7C728,1516.5 733.9,1506.7 737.9,1499.9C742,1493.1 744.2,1489.3 747.4,1482.1C750.6,1474.9 753.2,1466.1 757.2,1456.6C761.1,1447 765.9,1437.7 771,1424.7C776.1,1411.8 784.9,1386.5 787.6,1378.9C788.7,1396.8 792,1466.1 793.8,1486.5C795.5,1507 797.5,1499 798.2,1501.4C799.3,1501.8 802.4,1502.1 804.8,1503.7C807.2,1505.3 809.2,1509.1 812.6,1511C816,1512.9 820.6,1515.2 825.2,1515.2C829.8,1515.2 833.7,1515.6 840,1511C846.3,1506.4 855.5,1498.7 863.2,1487.8C870.9,1476.9 877.6,1465.9 886.4,1445.8C895.1,1425.6 910.9,1379.9 915.9,1366.8C910.9,1380.1 895.1,1426.3 886.4,1447C877.6,1467.7 869.1,1481 863.2,1491C857.3,1501 855.8,1501.1 850.9,1507.2C846.1,1513.4 840.5,1521.1 834.1,1527.9C827.7,1534.8 819.7,1542.6 812.6,1548.3C805.5,1554.1 798.6,1558.4 791.6,1562.3C784.6,1566.3 781,1568.3 770.5,1571.9C759.9,1575.5 739,1581.2 728.4,1584C717.9,1586.8 714.1,1587.4 707.2,1588.8C700.2,1590.2 694,1591.8 686.7,1592.6C679.3,1593.4 667.1,1593.4 663.2,1593.6C662.1,1593.1 658.5,1592.3 656.7,1591C654.9,1589.7 653.2,1586.7 652.4,1585.8C648.1,1586.7 636.3,1589.2 626.7,1591C617,1592.8 603.4,1595.2 594.5,1596.8C585.6,1598.3 579.9,1599.1 573,1600.6C566.1,1602 562.7,1600.2 553.1,1605.5C543.5,1610.7 526.4,1621.9 515.3,1632C504.3,1642.1 496.3,1652.9 486.8,1666.1C477.3,1679.4 466.3,1697.5 458.4,1711.4C450.5,1725.3 442.8,1740 439.5,1749.5C436.1,1759 438.7,1765.2 438.5,1768.4C437.4,1753.2 433,1692.6 431.9,1677.5C431.3,1676.2 430.7,1670.8 428.2,1669.9C425.6,1668.9 421.1,1672.3 416.7,1671.8C412.3,1671.3 407.3,1667.8 401.6,1666.8C395.9,1665.9 387.6,1665.6 382.6,1666.1C377.5,1666.6 375.7,1667.4 371.3,1669.9C366.9,1672.4 361.8,1674.4 356.1,1681.3C350.4,1688.2 343.2,1700.1 337,1711.4C330.8,1722.8 325,1736.9 319,1749.5C312.9,1762.2 306.4,1775.7 300.6,1787.4C294.8,1799.1 289.1,1810.1 284.4,1819.7C279.8,1829.4 274.7,1841 272.7,1845.2C275.2,1838.7 282.2,1819.8 287.9,1806.4C293.6,1792.9 300.5,1777.9 306.8,1764.6C313.1,1751.4 319.4,1738.1 325.7,1726.7C332,1715.3 338.4,1705.5 344.7,1696.4C351,1687.2 357.4,1679.4 363.7,1671.8C370,1664.2 376.3,1657 382.6,1651C388.9,1645 392.1,1641.5 401.6,1635.8C411.1,1630.1 426.8,1621.7 439.5,1616.8C452.1,1611.9 464.7,1609.1 477.4,1606.4C490,1603.7 506.8,1601.8 515.3,1600.7C523.8,1599.6 526.3,1600 528.5,1599.8C530.1,1601.4 536.4,1607.7 538,1609.3C542.1,1608.2 552.9,1604.6 562.3,1602.5C571.7,1600.4 589.1,1597.7 594.5,1596.8" fill="none" stroke="#000000" stroke-width="2.6" stroke-linejoin="round" stroke-linecap="round" />
<path d="M594.5,1596.8C598.7,1595.7 610.7,1593.2 620,1590.2C629.2,1587.1 641.3,1582.8 649.9,1578.4C658.5,1574 664.3,1569.1 671.6,1563.7C678.9,1558.3 687.6,1551.1 693.7,1546C699.8,1540.8 703.5,1538 708.4,1532.7C713.3,1527.4 718.2,1521.4 723.1,1514.3C728,1507.2 733.9,1497 737.9,1490C742,1482.9 744.4,1478.2 747.4,1471.9C750.4,1465.6 752.1,1461.5 756,1452.1C760,1442.8 765.9,1428.7 771.1,1415.8C776.2,1403 784.4,1381.8 787.1,1375C788,1396.5 791.8,1482.1 792.7,1503.5C794.5,1503.7 800.2,1503.4 803.5,1504.6C806.8,1505.9 809,1509.2 812.6,1511C816.2,1512.8 820.6,1515.2 825.2,1515.2C829.8,1515.2 833.7,1515.2 840,1511C846.3,1506.8 859.3,1493.5 863.2,1490C861.1,1492.4 855.3,1499.1 850.4,1504.7C845.6,1510.3 840.4,1517 834.1,1523.7C827.8,1530.3 819.7,1538.7 812.6,1544.7C805.5,1550.7 798.6,1555.3 791.6,1559.5C784.6,1563.7 781,1566.1 770.5,1570C759.9,1573.8 739,1579.6 728.4,1582.6C717.9,1585.6 714.1,1586.3 707.2,1587.8C700.2,1589.3 693.7,1590.8 686.7,1591.7C679.6,1592.5 668.4,1592.9 664.8,1593.2C663.8,1592.8 660.4,1592.4 658.7,1591C656.9,1589.7 655,1586.1 654.3,1585.1C650.6,1585.8 642,1587.2 632.1,1589.1C622.1,1591 604.3,1594.8 594.5,1596.8C584.7,1598.7 579.9,1599.1 573,1600.6C566.1,1602 562.7,1600.2 553.1,1605.5C543.5,1610.7 526.4,1621.9 515.3,1632C504.3,1642.1 496.3,1652.9 486.8,1666.1C477.3,1679.4 466.3,1697.5 458.4,1711.4C450.5,1725.3 442.8,1740 439.5,1749.5C436.1,1759 438.7,1765.2 438.5,1768.4C437.4,1753.2 433,1692.6 431.9,1677.5C431.3,1676.2 430.7,1670.8 428.2,1669.9C425.6,1668.9 421.1,1672.3 416.7,1671.8C412.3,1671.3 407.3,1667.8 401.6,1666.8C395.9,1665.9 387.6,1665.6 382.6,1666.1C377.5,1666.6 375.7,1667.4 371.3,1669.9C366.9,1672.4 360.9,1676.5 356.1,1681.3C351.3,1686.1 347.4,1690.3 342.3,1698.7C337.3,1707.1 328.6,1726 325.8,1731.5C329,1725.4 338.4,1705 344.7,1694.9C351,1684.7 357.4,1678.1 363.7,1670.7C370,1663.2 376.3,1656.2 382.6,1650.3C388.9,1644.3 392.1,1640.7 401.6,1635C411.1,1629.3 426.8,1621 439.5,1616.2C452.1,1611.4 464.7,1608.6 477.4,1606C490,1603.4 506.8,1601.5 515.3,1600.4C523.8,1599.4 526.3,1599.8 528.5,1599.6C530.1,1601.2 536.4,1607.7 538,1609.3C542.1,1608.2 552.9,1604.6 562.3,1602.5C571.7,1600.4 589.1,1597.7 594.5,1596.8" fill="none" stroke="#ff0000" stroke-width="2.5" stroke-linejoin="round" stroke-linecap="round" />
<path d="M594.5,1596.8C598.7,1595.7 610.7,1593.2 620,1590.2C629.2,1587.1 641.3,1582.8 649.9,1578.4C658.5,1574 664.3,1569.1 671.6,1563.7C678.9,1558.3 687.6,1551.1 693.7,1546C699.8,1540.8 703.5,1538 708.4,1532.7C713.3,1527.4 718.2,1521.4 723.1,1514.3C728,1507.2 733.9,1497 737.9,1490C742,1482.9 744.4,1478.2 747.4,1471.9C750.4,1465.6 752.1,1461.5 756,1452.1C760,1442.8 765.9,1428.7 771.1,1415.8C776.2,1403 784.4,1381.8 787.1,1375C788,1396.5 791.8,1482.1 792.7,1503.5C794.5,1503.7 800.8,1503.7 803.5,1504.6C806.1,1505.5 807.7,1508.1 808.5,1508.8C807.7,1512.6 806.1,1524.4 803.5,1531.4C800.8,1538.4 797.3,1545.9 792.7,1550.9C788.2,1555.9 781.2,1558.5 776.4,1561.4C771.5,1564.3 768,1565.9 763.6,1568.1C759.1,1570.2 756.3,1571.9 749.5,1574.2C742.8,1576.5 732.4,1579.5 723.1,1581.8C713.8,1584.1 702.3,1586.7 693.7,1588.1C685.1,1589.6 675.3,1589.8 671.6,1590.2C670.5,1589.6 666.7,1587.9 664.8,1586.6C662.8,1585.2 660.6,1582.8 659.8,1582.1C656.1,1583.1 648.3,1585.4 637.4,1587.8C626.5,1590.3 605.2,1594.6 594.5,1596.8C583.8,1598.9 579.9,1599.1 573,1600.6C566.1,1602 562.7,1600.2 553.1,1605.5C543.5,1610.7 526.4,1621.9 515.3,1632C504.3,1642.1 496.3,1652.9 486.8,1666.1C477.3,1679.4 466.3,1697.5 458.4,1711.4C450.5,1725.3 442.8,1740 439.5,1749.5C436.1,1759 438.7,1765.2 438.5,1768.4C437.4,1753.2 433,1692.6 431.9,1677.5C431.3,1676.2 430.7,1670.8 428.2,1669.9C425.6,1668.9 421.1,1672.3 416.7,1671.8C412.3,1671.3 407.6,1668 401.6,1666.8C395.6,1665.7 384.2,1665.2 380.7,1664.9C382.6,1662 386.9,1652.7 392,1647.2C397,1641.7 403.1,1636.5 411,1631.8C418.9,1627 428.4,1622.7 439.5,1618.7C450.5,1614.8 465,1610.9 477.4,1608.2C489.8,1605.6 506.1,1603.8 514,1602.8C521.9,1601.8 523,1602.5 524.8,1602.5C526.3,1603.9 532.6,1609.7 534.2,1611.1C538.9,1609.7 552.3,1604.9 562.3,1602.5C572.4,1600.1 589.1,1597.7 594.5,1596.8" fill="none" stroke="#0000ff" stroke-width="2.5" stroke-linejoin="round" stroke-linecap="round" />
<path d="M594.5,1596.8C598.7,1595.7 610.7,1593.2 620,1590.2C629.2,1587.1 641.3,1582.8 649.9,1578.4C658.5,1574 664.3,1569.1 671.6,1563.7C678.9,1558.3 687.6,1551.1 693.7,1546C699.8,1540.8 703.5,1538 708.4,1532.7C713.3,1527.4 718.2,1521.4 723.1,1514.3C728,1507.2 733.9,1497 737.9,1490C742,1482.9 744.4,1478 747.4,1471.9C750.4,1465.8 754.6,1456.3 756,1453.2C754.6,1457.2 751.1,1468.7 747.4,1477C743.7,1485.3 738.9,1494.6 734,1503.1C729.1,1511.6 723.1,1521 717.9,1527.9C712.6,1534.8 708.8,1538.8 702.5,1544.5C696.2,1550.2 687.6,1556.9 680.3,1562.3C673.1,1567.8 666.9,1572.6 658.9,1577C650.8,1581.4 640.1,1585.6 632.1,1588.5C624,1591.3 616.9,1592.8 610.6,1594.2C604.3,1595.6 600.8,1595.7 594.5,1596.8C588.2,1597.8 579.9,1599.1 573,1600.6C566.1,1602 562.7,1600.2 553.1,1605.5C543.5,1610.7 526.4,1621.9 515.3,1632C504.3,1642.1 496.3,1652.9 486.8,1666.1C477.3,1679.4 466.3,1697.5 458.4,1711.4C450.5,1725.3 442.8,1740 439.5,1749.5C436.1,1759 438.7,1765.2 438.5,1768.4C437.6,1753.2 433.8,1692.6 432.8,1677.5C433.6,1674.6 434.9,1666.4 437.6,1660.4C440.3,1654.4 444.7,1646.6 448.9,1641.3C453.1,1636 458.3,1632.3 463.1,1628.6C467.8,1624.9 469.5,1622.7 477.5,1619.4C485.6,1616 505.8,1610.3 511.5,1608.5C513.4,1610.5 520.9,1618.6 522.8,1620.6C526.7,1618.7 534.3,1613.5 546.2,1609.5C558.2,1605.5 586.5,1598.9 594.5,1596.8" fill="none" stroke="#ff00ff" stroke-width="2.5" stroke-linejoin="round" stroke-linecap="round" />
<path d="M594.5,1596.8C598.7,1595.7 610.9,1593.2 620,1590.7C629.1,1588.2 640.6,1585.2 649.2,1581.8C657.8,1578.3 662.7,1576 671.6,1570C680.5,1564 697.3,1549.8 702.5,1545.8C697.3,1550.3 680.5,1566.7 671.6,1573.2C662.7,1579.7 657.8,1581.5 649.2,1584.6C640.6,1587.8 629.1,1590 620,1592C610.9,1594 602.3,1595.3 594.5,1596.8C586.7,1598.2 579.9,1599.1 573,1600.6C566.1,1602 562.7,1600.2 553.1,1605.5C543.5,1610.7 526.4,1622.3 515.3,1632C504.3,1641.6 491.6,1658.1 486.8,1663.3C490,1659.4 497.9,1647.6 505.8,1639.6C513.7,1631.5 524.8,1621 534.2,1614.9C543.6,1608.8 552.3,1606.1 562.3,1603.1C572.4,1600.1 589.1,1597.8 594.5,1596.8" fill="none" stroke="#008000" stroke-width="3.4" stroke-linejoin="round" stroke-linecap="round" />
<path d="M594.5,1596.8C598.7,1595.8 610.9,1593.2 620,1591C629.1,1588.8 644.3,1584.9 649.2,1583.7C644.3,1585.1 629.1,1589.8 620,1592C610.9,1594.1 603.2,1595.1 594.5,1596.8C585.8,1598.4 576.6,1599.6 567.7,1601.8C558.7,1604.1 545.3,1609 540.9,1610.4C545.3,1609.1 558.7,1604.4 567.7,1602.2C576.6,1599.9 590,1597.7 594.5,1596.8" fill="none" stroke="#8000ff" stroke-width="3.2" stroke-linejoin="round" stroke-linecap="round" />
<path d="M1283.9,1618.7 L1344.9,1621.3 L1381.7,1623.2 L1407.7,1624.7 L1428,1625.9 L1444.5,1627 L1458.4,1627.9 L1470.5,1628.7 L1481.2,1629.4 L1490.8,1630.1 L1499.4,1630.6 L1507.3,1631.2 L1514.5,1631.7 L1521.3,1632.1 L1527.5,1632.6 L1533.4,1633" fill="none" stroke="#000000" stroke-width="2.2" stroke-linejoin="round"/>
<path d="M1507.3,1631.2 L1510.2,1631.4 L1513,1631.6 L1515.9,1631.8 L1518.7,1632 L1521.6,1632.2 L1524.5,1632.4 L1527.3,1632.6 L1527.5,1632.6 L1530.2,1632.8 L1533.1,1633 L1535.9,1633.2 L1538.8,1633.4 L1541.6,1633.6 L1544.5,1633.8 L1547.4,1634 L1550.2,1634.3 L1553.1,1634.5 L1556,1634.7 L1558.8,1634.9 L1561.7,1635.2 L1564.6,1635.4 L1567.4,1635.6 L1570.3,1635.8 L1573.1,1636.1 L1576,1636.3 L1578.9,1636.5 L1581.7,1636.7 L1584.6,1636.9 L1587.5,1637.2 L1590.3,1637.4 L1593.2,1637.6 L1596,1637.8 L1598.9,1638 L1601.8,1638.2 L1604.6,1638.4 L1607.5,1638.6 L1610.4,1638.8 L1613.2,1639 L1616.1,1639.2 L1618.9,1639.4 L1620,1639.4 L1621.8,1639.6 L1624.7,1639.7 L1627.5,1639.9 L1630.4,1640.1 L1633.3,1640.2 L1636.1,1640.4 L1639,1640.6 L1641.9,1640.7 L1644.7,1640.9 L1647.6,1641 L1650.4,1641.2 L1653.3,1641.3 L1656.2,1641.5 L1659,1641.6 L1661.9,1641.7 L1664.8,1641.9 L1667.6,1642 L1670.5,1642.1 L1673.3,1642.3 L1676.2,1642.4 L1679.1,1642.6 L1681.9,1642.7 L1684.8,1642.8 L1687.7,1643 L1690.5,1643.1 L1693.4,1643.2 L1696.2,1643.4 L1699.1,1643.5 L1699.4,1643.5 L1702,1643.6 L1704.8,1643.8 L1707.7,1644 L1710.6,1644.1 L1713.4,1644.3 L1716.3,1644.5 L1719.2,1644.6 L1722,1644.8 L1724.9,1645 L1727.7,1645.1 L1730.6,1645.3 L1733.5,1645.4 L1736.3,1645.6 L1739.2,1645.7 L1742.1,1645.8 L1744.9,1645.9 L1747.8,1646 L1750.6,1646.1 L1753.5,1646.1 L1756.4,1646.2 L1759,1646.2 L1759.2,1646.2 L1762.1,1646.2 L1765,1646.2 L1767.8,1646.1 L1770.7,1646.1 L1773.5,1646 L1776.4,1645.9 L1779.3,1645.9 L1782.1,1645.8 L1785,1645.7 L1787.9,1645.6 L1790.7,1645.4 L1793.6,1645.3 L1796.5,1645.2 L1799.3,1645 L1802.2,1644.9 L1805,1644.7 L1807.9,1644.6 L1810.8,1644.4 L1813.6,1644.2 L1816.5,1644.1 L1819.4,1643.9 L1822.2,1643.7 L1825.1,1643.5 L1825.1,1643.5 L1827.9,1643.3 L1830.8,1643.1 L1833.7,1642.9 L1836.5,1642.7 L1839.4,1642.5 L1842.3,1642.3 L1845.1,1642.1 L1848,1641.8 L1850.9,1641.6 L1853.7,1641.3 L1856.6,1641.1 L1859.4,1640.8 L1862.3,1640.5 L1865.2,1640.2 L1868,1639.9 L1870.9,1639.6 L1873.8,1639.3 L1875.8,1639.1 L1876.6,1639 L1879.5,1638.6 L1882.3,1638.2 L1885.2,1637.8 L1888.1,1637.4 L1890.9,1637 L1893.8,1636.5 L1896.7,1636.1 L1899.5,1635.6 L1902.4,1635.2 L1905.2,1634.7 L1908.1,1634.3" fill="none" stroke="#ff7f00" stroke-width="7.8" stroke-linejoin="round" stroke-linecap="round"/>
<circle cx="1283.89" cy="1618.68" r="3.8" fill="#ff7f00"/>
<circle cx="1344.92" cy="1621.31" r="3.8" fill="#ff7f00"/>
<circle cx="1381.66" cy="1623.23" r="3.8" fill="#ff7f00"/>
<circle cx="1407.73" cy="1624.71" r="3.8" fill="#ff7f00"/>
<circle cx="1427.95" cy="1625.92" r="3.8" fill="#ff7f00"/>
<circle cx="1444.48" cy="1626.98" r="3.8" fill="#ff7f00"/>
<circle cx="1458.45" cy="1627.91" r="3.8" fill="#ff7f00"/>
<circle cx="1470.55" cy="1628.72" r="3.8" fill="#ff7f00"/>
<circle cx="1481.22" cy="1629.43" r="3.8" fill="#ff7f00"/>
<circle cx="1490.77" cy="1630.06" r="3.8" fill="#ff7f00"/>
<circle cx="1499.41" cy="1630.64" r="3.8" fill="#ff7f00"/>
<circle cx="1507.29" cy="1631.17" r="3.8" fill="#ff7f00"/>
<circle cx="1514.55" cy="1631.67" r="3.8" fill="#ff7f00"/>
<circle cx="1521.26" cy="1632.13" r="3.8" fill="#ff7f00"/>
<circle cx="1527.51" cy="1632.57" r="3.8" fill="#ff7f00"/>
<path d="M1283.9,1493.7 L1344.9,1504.7 L1381.7,1511.6 L1407.7,1516.1 L1428,1519.5 L1444.5,1522.4 L1458.4,1524.9 L1470.5,1527.1 L1481.2,1528.9 L1490.8,1530.5 L1499.4,1531.9 L1507.3,1533.2 L1514.5,1534.3 L1521.3,1535.3 L1527.5,1536.3 L1533.4,1537.2" fill="none" stroke="#00ff00" stroke-width="2.2" stroke-linejoin="round"/>
<path d="M1507.3,1533.2 L1510.2,1533.6 L1513,1534.1 L1515.9,1534.5 L1518.7,1535 L1521.6,1535.4 L1524.5,1535.8 L1527.3,1536.3 L1530.2,1536.7 L1533.1,1537.1 L1535.9,1537.6 L1538.8,1538 L1541.6,1538.4 L1544.5,1538.8 L1547.4,1539.3 L1550.2,1539.7 L1553.1,1540.1 L1553.6,1540.2 L1556,1540.5 L1558.8,1541 L1561.7,1541.4 L1564.6,1541.8 L1567.4,1542.3 L1570.3,1542.7 L1573.1,1543.1 L1576,1543.6 L1578.9,1544 L1581.7,1544.4 L1584.6,1544.8 L1587.5,1545.2 L1590.3,1545.6 L1593.2,1545.9 L1596,1546.3 L1598.9,1546.6 L1600.1,1546.7 L1601.8,1546.9 L1604.6,1547.2 L1607.5,1547.4 L1610.4,1547.7 L1613.2,1548 L1616.1,1548.2 L1618.9,1548.4 L1621.8,1548.6 L1624.7,1548.9 L1627.5,1549.1 L1630.4,1549.2 L1633.3,1549.4 L1636.1,1549.6 L1639,1549.7 L1641.9,1549.9 L1644.7,1550 L1647.6,1550.1 L1650.4,1550.3 L1653.1,1550.4 L1653.3,1550.4 L1656.2,1550.5 L1659,1550.5 L1661.9,1550.6 L1664.8,1550.6 L1667.6,1550.7 L1670.5,1550.7 L1673.3,1550.7 L1676.2,1550.7 L1679.1,1550.7 L1681.9,1550.7 L1684.8,1550.7 L1687.7,1550.6 L1690.5,1550.6 L1693.4,1550.6 L1696.2,1550.6 L1699.1,1550.5 L1702,1550.5 L1704.8,1550.5 L1707.7,1550.5 L1710.6,1550.5 L1713.4,1550.5 L1716.3,1550.5 L1718.9,1550.6 L1719.2,1550.6 L1722,1550.6 L1724.9,1550.6 L1727.7,1550.7 L1730.6,1550.7 L1733.5,1550.8 L1736.3,1550.8 L1739.2,1550.9 L1742.1,1551 L1744.9,1551 L1747.8,1551.1 L1750.6,1551.2 L1753.5,1551.2 L1756.4,1551.3 L1759.2,1551.4 L1762.1,1551.4 L1765,1551.5 L1767.8,1551.6 L1770.7,1551.7 L1773.5,1551.7 L1776.4,1551.8 L1779.3,1551.9 L1782.1,1552 L1785,1552.1 L1787.9,1552.1 L1790.7,1552.2 L1793.6,1552.3 L1796.5,1552.4 L1799,1552.5 L1799.3,1552.5 L1802.2,1552.6 L1805,1552.7 L1807.9,1552.8 L1810.8,1552.9 L1813.6,1553 L1816.5,1553.1 L1819.4,1553.2 L1822.2,1553.3 L1825.1,1553.4 L1827.9,1553.5 L1830.8,1553.6 L1833.7,1553.7 L1836.5,1553.8 L1839.4,1553.9 L1842.3,1554 L1845.1,1554 L1845.3,1554 L1848,1554.1 L1850.9,1554.2 L1853.7,1554.2 L1856.6,1554.3 L1859.4,1554.3 L1862.3,1554.3 L1865.2,1554.4 L1868,1554.4 L1870.9,1554.4 L1873.8,1554.4 L1875.8,1554.4 L1876.6,1554.4 L1879.5,1554.4 L1882.3,1554.4 L1885.2,1554.3 L1888.1,1554.2 L1890.9,1554.1 L1893.8,1554 L1896.7,1553.9 L1899.5,1553.8 L1902.4,1553.6 L1905.2,1553.5 L1908.1,1553.4" fill="none" stroke="#00ff00" stroke-width="7.8" stroke-linejoin="round" stroke-linecap="square"/>
<rect x="1280.09" y="1489.91" width="7.6" height="7.6" fill="#00ff00"/>
<rect x="1341.12" y="1500.89" width="7.6" height="7.6" fill="#00ff00"/>
<rect x="1377.86" y="1507.83" width="7.6" height="7.6" fill="#00ff00"/>
<rect x="1403.93" y="1512.32" width="7.6" height="7.6" fill="#00ff00"/>
<rect x="1424.15" y="1515.74" width="7.6" height="7.6" fill="#00ff00"/>
<rect x="1440.68" y="1518.64" width="7.6" height="7.6" fill="#00ff00"/>
<rect x="1454.65" y="1521.12" width="7.6" height="7.6" fill="#00ff00"/>
<rect x="1466.75" y="1523.26" width="7.6" height="7.6" fill="#00ff00"/>
<rect x="1477.42" y="1525.11" width="7.6" height="7.6" fill="#00ff00"/>
<rect x="1486.97" y="1526.71" width="7.6" height="7.6" fill="#00ff00"/>
<rect x="1495.61" y="1528.11" width="7.6" height="7.6" fill="#00ff00"/>
<rect x="1503.49" y="1529.37" width="7.6" height="7.6" fill="#00ff00"/>
<rect x="1510.75" y="1530.5" width="7.6" height="7.6" fill="#00ff00"/>
<rect x="1517.46" y="1531.54" width="7.6" height="7.6" fill="#00ff00"/>
<rect x="1523.71" y="1532.5" width="7.6" height="7.6" fill="#00ff00"/>
<path d="M1283.9,1409.8 L1344.9,1413.6 L1381.7,1416.4 L1407.7,1418.7 L1428,1420.5 L1444.5,1422.1 L1458.4,1423.4 L1470.5,1424.5 L1481.2,1425.5 L1490.8,1426.4 L1499.4,1427.1 L1507.3,1427.9 L1514.5,1428.5 L1521.3,1429.1 L1527.5,1429.7 L1533.4,1430.2" fill="none" stroke="#0000ff" stroke-width="2.2" stroke-linejoin="round"/>
<path d="M1853.9,1440.2 L1854.3,1441.3 L1854.8,1444.9 L1854.9,1521.4 L1855.1,1550.2 L1855.4,1561.9 L1855.9,1571.6" fill="none" stroke="#0000ff" stroke-width="2.2"/>
<path d="M1507.3,1427.9 L1510.2,1428.1 L1513,1428.4 L1515.9,1428.6 L1518.7,1428.9 L1521.6,1429.1 L1524.5,1429.4 L1527.3,1429.7 L1530.2,1429.9 L1533.1,1430.2 L1535.9,1430.4 L1538.8,1430.7 L1541.6,1430.9 L1544.5,1431.2 L1547.4,1431.4 L1550.2,1431.6 L1553.1,1431.9 L1553.6,1431.9 L1556,1432.1 L1558.8,1432.4 L1561.7,1432.6 L1564.6,1432.9 L1567.4,1433.1 L1570.3,1433.3 L1573.1,1433.6 L1576,1433.8 L1578.9,1434 L1581.7,1434.3 L1584.6,1434.5 L1587.5,1434.7 L1590.3,1434.9 L1593.2,1435.2 L1596,1435.4 L1598.9,1435.6 L1600.1,1435.7 L1601.8,1435.8 L1604.6,1436 L1607.5,1436.2 L1610.4,1436.4 L1613.2,1436.6 L1616.1,1436.8 L1618.9,1437 L1621.8,1437.2 L1624.7,1437.4 L1627.5,1437.6 L1630.4,1437.7 L1633.3,1437.9 L1636.1,1438.1 L1639,1438.3 L1641.9,1438.5 L1644.7,1438.7 L1647.6,1438.8 L1650.4,1439 L1653.3,1439.2 L1656.2,1439.4 L1659,1439.5 L1661.9,1439.7 L1664.8,1439.9 L1667.6,1440 L1670.5,1440.2 L1673.3,1440.4 L1676.2,1440.5 L1679.1,1440.7 L1679.2,1440.7 L1681.9,1440.8 L1684.8,1441 L1687.7,1441.2 L1690.5,1441.3 L1693.4,1441.5 L1696.2,1441.6 L1699.1,1441.8 L1702,1441.9 L1704.8,1442.1 L1707.7,1442.2 L1710.6,1442.4 L1713.4,1442.5 L1716.3,1442.7 L1719.2,1442.8 L1722,1442.9 L1724.9,1443.1 L1727.7,1443.2 L1730.6,1443.3 L1733.5,1443.4 L1736.2,1443.6 L1736.3,1443.6 L1739.2,1443.7 L1742.1,1443.8 L1744.9,1443.9 L1747.8,1444.1 L1750.6,1444.2 L1753.5,1444.3 L1756.4,1444.4 L1759.2,1444.5 L1762.1,1444.5 L1765,1444.6 L1767.8,1444.6 L1768.4,1444.6 L1770.7,1444.6 L1773.5,1444.6 L1776.4,1444.6 L1779.3,1444.6 L1782.1,1444.6 L1785,1444.6 L1787.9,1444.6 L1790.7,1444.6 L1793.6,1444.6 L1796.5,1444.6 L1798.4,1444.6 L1799.3,1444.6 L1802.2,1444.4 L1805,1444 L1807.9,1443.5 L1810.8,1442.9 L1813.6,1442.2 L1816.5,1441.6 L1819.4,1441.1 L1820.4,1440.9 L1822.2,1440.6 L1825.1,1440.2 L1827.9,1439.7 L1830.8,1439.3 L1833.7,1439 L1836.5,1438.8 L1838.5,1438.8 L1839.4,1438.8 L1842.3,1438.8 L1845.1,1438.8 L1848,1438.8 L1850.6,1438.8 L1850.9,1438.7 L1853.7,1439.6 L1854.3,1441.3" fill="none" stroke="#0000ff" stroke-width="7.8" stroke-linejoin="round" stroke-linecap="square"/>
<path d="M1855.4,1561.9 L1856.4,1579.1 L1856.6,1581.2 L1858,1594.4 L1859.4,1603 L1860,1605.4 L1862.3,1612.9 L1864.1,1616.8 L1865.2,1618.8 L1868,1622.1 L1868.1,1622.2 L1870.9,1625.3 L1873.8,1628.1 L1875.8,1629.8 L1876.6,1630.4 L1879.5,1632.2 L1882.3,1633.7 L1885.2,1635 L1887.4,1636 L1888.1,1636.3 L1890.9,1637.5 L1893.8,1638.6 L1896.7,1639.7 L1898.6,1640.3 L1899.5,1640.6 L1902.4,1641.5 L1905.2,1642.3 L1908.1,1643.1" fill="none" stroke="#0000ff" stroke-width="7.8" stroke-linejoin="round" stroke-linecap="square"/>
<rect x="1280.09" y="1405.98" width="7.6" height="7.6" fill="#0000ff"/>
<rect x="1341.12" y="1409.79" width="7.6" height="7.6" fill="#0000ff"/>
<rect x="1377.86" y="1412.65" width="7.6" height="7.6" fill="#0000ff"/>
<rect x="1403.93" y="1414.9" width="7.6" height="7.6" fill="#0000ff"/>
<rect x="1424.15" y="1416.73" width="7.6" height="7.6" fill="#0000ff"/>
<rect x="1440.68" y="1418.25" width="7.6" height="7.6" fill="#0000ff"/>
<rect x="1454.65" y="1419.56" width="7.6" height="7.6" fill="#0000ff"/>
<rect x="1466.75" y="1420.7" width="7.6" height="7.6" fill="#0000ff"/>
<rect x="1477.42" y="1421.69" width="7.6" height="7.6" fill="#0000ff"/>
<rect x="1486.97" y="1422.57" width="7.6" height="7.6" fill="#0000ff"/>
<rect x="1495.61" y="1423.35" width="7.6" height="7.6" fill="#0000ff"/>
<rect x="1503.49" y="1424.06" width="7.6" height="7.6" fill="#0000ff"/>
<rect x="1510.75" y="1424.71" width="7.6" height="7.6" fill="#0000ff"/>
<rect x="1517.46" y="1425.31" width="7.6" height="7.6" fill="#0000ff"/>
<rect x="1523.71" y="1425.87" width="7.6" height="7.6" fill="#0000ff"/>
<rect x="1851.11" y="1517.63" width="7.6" height="7.6" fill="#0000ff"/>
<rect x="1851.28" y="1546.38" width="7.6" height="7.6" fill="#0000ff"/>
<path d="M1283.9,1383.7 L1344.9,1595.5 L1381.7,1611.5 L1407.7,1624 L1428,1632.3 L1444.5,1640.6 L1458.4,1646.1 L1470.5,1650.7 L1481.2,1653.4 L1490.8,1656.7 L1499.4,1659.3 L1507.3,1661.6 L1514.5,1663.6 L1521.3,1665.3 L1527.5,1667 L1533.4,1668.5" fill="none" stroke="#8000ff" stroke-width="2.2" stroke-linejoin="round"/>
<path d="M1507.3,1661.6 L1510.2,1662.4 L1513,1663.2 L1515.9,1663.9 L1518.7,1664.7 L1521.6,1665.4 L1524.5,1666.2 L1527.3,1666.9 L1530.2,1667.7 L1533.1,1668.4 L1535.9,1669.1 L1538.8,1669.9 L1541.6,1670.6 L1544.5,1671.4 L1547.4,1672.1 L1550.2,1672.9 L1553.1,1673.7 L1553.6,1673.8 L1556,1674.4 L1558.8,1675.2 L1561.7,1676 L1564.6,1676.9 L1567.4,1677.7 L1570.3,1678.5 L1573.1,1679.3 L1576,1680.2 L1578.9,1681 L1581.7,1681.9 L1584.6,1682.7 L1587.5,1683.5 L1590.3,1684.3 L1593.2,1685.1 L1596,1685.9 L1598.9,1686.7 L1601.8,1687.5 L1604.6,1688.2 L1607.5,1688.9 L1610.4,1689.6 L1613.2,1690.3 L1616.1,1691 L1618.9,1691.6 L1620,1691.8 L1621.8,1692.2 L1624.7,1692.8 L1627.5,1693.3 L1630.4,1693.9 L1633.3,1694.4 L1636.1,1694.9 L1639,1695.4 L1641.9,1695.8 L1644.7,1696.3 L1647.6,1696.7 L1650.4,1697.1 L1653.3,1697.5 L1656.2,1697.9 L1659,1698.3 L1661.9,1698.7 L1664.8,1699.1 L1667.6,1699.5 L1670.5,1699.9 L1673.3,1700.2 L1676.2,1700.6 L1679.1,1700.9 L1681.9,1701.3 L1684.8,1701.7 L1687.7,1702 L1690.5,1702.4 L1693.4,1702.8 L1696.2,1703.1 L1699.1,1703.5 L1699.4,1703.6 L1702,1703.9 L1704.8,1704.3 L1707.7,1704.7 L1710.6,1705.1 L1713.4,1705.4 L1716.3,1705.8 L1719.2,1706.2 L1722,1706.5 L1724.9,1706.9 L1727.7,1707.3 L1730.6,1707.6 L1733.5,1708 L1736.3,1708.4 L1739.2,1708.7 L1742.1,1709.1 L1744.9,1709.4 L1747.8,1709.8 L1750.6,1710.1 L1753.5,1710.5 L1756.4,1710.8 L1759.2,1711.2 L1762.1,1711.5 L1765,1711.8 L1767.8,1712.2 L1770.7,1712.5 L1773.5,1712.8 L1776.4,1713.2 L1779.3,1713.5 L1782.1,1713.8 L1785,1714.1 L1787.9,1714.5 L1790.7,1714.8 L1793.6,1715.1 L1796.5,1715.4 L1798.4,1715.6 L1799.3,1715.7 L1802.2,1716 L1805,1716.3 L1807.9,1716.7 L1810.8,1717 L1813.6,1717.3 L1816.5,1717.6 L1819.4,1717.9 L1822.2,1718.2 L1825.1,1718.5 L1827.9,1718.8 L1830.8,1719.1 L1833.7,1719.3 L1836.5,1719.6 L1839.4,1719.9 L1842.3,1720.1 L1845.1,1720.4 L1848,1720.6 L1850.9,1720.9 L1853.7,1721.1 L1856.6,1721.3 L1859.4,1721.5 L1861.8,1721.7 L1862.3,1721.7 L1865.2,1721.9 L1868,1722.1 L1870.9,1722.2 L1873.8,1722.4 L1876.6,1722.5 L1879.5,1722.6 L1882.3,1722.7 L1885.2,1722.8 L1888.1,1722.9 L1890.9,1723 L1893.8,1723.1 L1896.7,1723.2 L1899.5,1723.3 L1902.4,1723.4 L1905.2,1723.5 L1908.1,1723.6" fill="none" stroke="#8000ff" stroke-width="7.8" stroke-linejoin="round" stroke-linecap="square"/>
<rect x="1280.09" y="1379.93" width="7.6" height="7.6" fill="#8000ff"/>
<rect x="1341.12" y="1591.66" width="7.6" height="7.6" fill="#8000ff"/>
<rect x="1377.86" y="1607.72" width="7.6" height="7.6" fill="#8000ff"/>
<rect x="1403.93" y="1620.23" width="7.6" height="7.6" fill="#8000ff"/>
<rect x="1424.15" y="1628.55" width="7.6" height="7.6" fill="#8000ff"/>
<rect x="1440.68" y="1636.76" width="7.6" height="7.6" fill="#8000ff"/>
<rect x="1454.65" y="1642.32" width="7.6" height="7.6" fill="#8000ff"/>
<rect x="1466.75" y="1646.93" width="7.6" height="7.6" fill="#8000ff"/>
<rect x="1477.42" y="1649.57" width="7.6" height="7.6" fill="#8000ff"/>
<rect x="1486.97" y="1652.94" width="7.6" height="7.6" fill="#8000ff"/>
<rect x="1495.61" y="1655.54" width="7.6" height="7.6" fill="#8000ff"/>
<rect x="1503.49" y="1657.78" width="7.6" height="7.6" fill="#8000ff"/>
<rect x="1510.75" y="1659.76" width="7.6" height="7.6" fill="#8000ff"/>
<rect x="1517.46" y="1661.54" width="7.6" height="7.6" fill="#8000ff"/>
<rect x="1523.71" y="1663.17" width="7.6" height="7.6" fill="#8000ff"/>
<path d="M1283.9,1483.2 L1344.9,1492.5 L1381.7,1498.9 L1407.7,1503.4 L1428,1506.9 L1444.5,1509.8 L1458.4,1512.4 L1470.5,1514.6 L1481.2,1516.6 L1490.8,1518.3 L1499.4,1519.8 L1507.3,1521.2 L1514.5,1522.5 L1521.3,1523.7 L1527.5,1524.8 L1533.4,1525.8" fill="none" stroke="#ff00ff" stroke-width="2.2" stroke-linejoin="round"/>
<path d="M1507.3,1521.2 L1510.2,1521.7 L1513,1522.2 L1515.9,1522.7 L1518.7,1523.2 L1521.6,1523.7 L1524.5,1524.2 L1527.3,1524.7 L1530.2,1525.2 L1533.1,1525.7 L1535.9,1526.3 L1538.8,1526.8 L1541.6,1527.3 L1544.5,1527.8 L1547.4,1528.3 L1550.2,1528.9 L1553.1,1529.4 L1553.6,1529.5 L1556,1530 L1558.8,1530.5 L1561.7,1531.1 L1564.6,1531.7 L1567.4,1532.2 L1570.3,1532.8 L1573.1,1533.4 L1576,1534 L1578.9,1534.6 L1581.7,1535.2 L1584.6,1535.8 L1587.5,1536.4 L1590.3,1537 L1593.2,1537.5 L1596,1538.1 L1598.9,1538.7 L1600.1,1538.9 L1601.8,1539.2 L1604.6,1539.8 L1607.5,1540.3 L1610.4,1540.8 L1613.2,1541.4 L1616.1,1541.9 L1618.9,1542.5 L1621.8,1543 L1624.7,1543.6 L1627.5,1544.1 L1630.4,1544.7 L1633.3,1545.2 L1636.1,1545.7 L1639,1546.3 L1641.9,1546.8 L1644.7,1547.3 L1647.6,1547.9 L1650.4,1548.4 L1653.3,1548.9 L1656.2,1549.4 L1659,1549.9 L1661.9,1550.4 L1664.8,1550.9 L1667.6,1551.4 L1670.5,1551.9 L1673.3,1552.4 L1676.2,1552.9 L1679.1,1553.4 L1681.9,1553.9 L1684.8,1554.3 L1687.7,1554.8 L1690.5,1555.3 L1693.4,1555.7 L1696.2,1556.2 L1699.1,1556.6 L1699.4,1556.6 L1702,1557 L1704.8,1557.4 L1707.7,1557.9 L1710.6,1558.3 L1713.4,1558.7 L1716.3,1559.1 L1719.2,1559.5 L1722,1559.9 L1724.9,1560.3 L1727.7,1560.7 L1730.6,1561.1 L1733.5,1561.5 L1736.3,1561.8 L1739.2,1562.2 L1742.1,1562.6 L1744.9,1562.9 L1747.8,1563.3 L1750.6,1563.6 L1753.5,1564 L1756.4,1564.3 L1759.2,1564.7 L1762.1,1565 L1765,1565.3 L1767.8,1565.7 L1770.7,1566 L1773.5,1566.3 L1776.4,1566.6 L1779.3,1566.9 L1782.1,1567.2 L1785,1567.5 L1787.9,1567.8 L1790.7,1568.1 L1793.6,1568.4 L1796.5,1568.6 L1798.4,1568.8 L1799.3,1568.9 L1802.2,1569.2 L1805,1569.4 L1807.9,1569.7 L1810.8,1569.9 L1813.6,1570.1 L1816.5,1570.4 L1819.4,1570.6 L1822.2,1570.8 L1825.1,1571 L1827.9,1571.2 L1830.8,1571.3 L1833.7,1571.5 L1836.5,1571.7 L1839.4,1571.9 L1842.3,1572 L1845.1,1572.2 L1848,1572.3 L1850.9,1572.5 L1853.7,1572.6 L1856.6,1572.8 L1859.4,1572.9 L1861.8,1573 L1862.3,1573.1 L1865.2,1573.2 L1868,1573.3 L1870.9,1573.4 L1873.8,1573.6 L1876.6,1573.7 L1879.5,1573.7 L1882.3,1573.8 L1885.2,1573.9 L1888.1,1574 L1890.9,1574.1 L1893.8,1574.2 L1896.7,1574.2 L1899.5,1574.3 L1902.4,1574.4 L1905.2,1574.5 L1908.1,1574.6" fill="none" stroke="#ff00ff" stroke-width="7.8" stroke-linejoin="round" stroke-linecap="square"/>
<rect x="1280.09" y="1479.41" width="7.6" height="7.6" fill="#ff00ff"/>
<rect x="1341.12" y="1488.69" width="7.6" height="7.6" fill="#ff00ff"/>
<rect x="1377.86" y="1495.1" width="7.6" height="7.6" fill="#ff00ff"/>
<rect x="1403.93" y="1499.56" width="7.6" height="7.6" fill="#ff00ff"/>
<rect x="1424.15" y="1503.06" width="7.6" height="7.6" fill="#ff00ff"/>
<rect x="1440.68" y="1506.03" width="7.6" height="7.6" fill="#ff00ff"/>
<rect x="1454.65" y="1508.59" width="7.6" height="7.6" fill="#ff00ff"/>
<rect x="1466.75" y="1510.81" width="7.6" height="7.6" fill="#ff00ff"/>
<rect x="1477.42" y="1512.77" width="7.6" height="7.6" fill="#ff00ff"/>
<rect x="1486.97" y="1514.5" width="7.6" height="7.6" fill="#ff00ff"/>
<rect x="1495.61" y="1516.04" width="7.6" height="7.6" fill="#ff00ff"/>
<rect x="1503.49" y="1517.43" width="7.6" height="7.6" fill="#ff00ff"/>
<rect x="1510.75" y="1518.69" width="7.6" height="7.6" fill="#ff00ff"/>
<rect x="1517.46" y="1519.87" width="7.6" height="7.6" fill="#ff00ff"/>
<rect x="1523.71" y="1520.96" width="7.6" height="7.6" fill="#ff00ff"/>
<g stroke="#000" stroke-width="3" stroke-linecap="round">
<line x1="256.1" y1="1161" x2="256.1" y2="1173.5" stroke="#000" stroke-width="3" stroke-linecap="round" />
<line x1="256.1" y1="555.7" x2="256.1" y2="568.2" stroke="#000" stroke-width="3" stroke-linecap="round" />
<line x1="339.6" y1="1161" x2="339.6" y2="1173.5" stroke="#000" stroke-width="3" stroke-linecap="round" />
<line x1="339.6" y1="555.7" x2="339.6" y2="568.2" stroke="#000" stroke-width="3" stroke-linecap="round" />
<line x1="423.1" y1="1161" x2="423.1" y2="1173.5" stroke="#000" stroke-width="3" stroke-linecap="round" />
<line x1="423.1" y1="555.7" x2="423.1" y2="568.2" stroke="#000" stroke-width="3" stroke-linecap="round" />
<line x1="506.6" y1="1161" x2="506.6" y2="1173.5" stroke="#000" stroke-width="3" stroke-linecap="round" />
<line x1="506.6" y1="555.7" x2="506.6" y2="568.2" stroke="#000" stroke-width="3" stroke-linecap="round" />
<line x1="590.1" y1="1161" x2="590.1" y2="1173.5" stroke="#000" stroke-width="3" stroke-linecap="round" />
<line x1="590.1" y1="555.7" x2="590.1" y2="568.2" stroke="#000" stroke-width="3" stroke-linecap="round" />
<line x1="673.6" y1="1161" x2="673.6" y2="1173.5" stroke="#000" stroke-width="3" stroke-linecap="round" />
<line x1="673.6" y1="555.7" x2="673.6" y2="568.2" stroke="#000" stroke-width="3" stroke-linecap="round" />
<line x1="757.1" y1="1161" x2="757.1" y2="1173.5" stroke="#000" stroke-width="3" stroke-linecap="round" />
<line x1="757.1" y1="555.7" x2="757.1" y2="568.2" stroke="#000" stroke-width="3" stroke-linecap="round" />
<line x1="840.6" y1="1161" x2="840.6" y2="1173.5" stroke="#000" stroke-width="3" stroke-linecap="round" />
<line x1="840.6" y1="555.7" x2="840.6" y2="568.2" stroke="#000" stroke-width="3" stroke-linecap="round" />
<line x1="924.1" y1="1161" x2="924.1" y2="1173.5" stroke="#000" stroke-width="3" stroke-linecap="round" />
<line x1="924.1" y1="555.7" x2="924.1" y2="568.2" stroke="#000" stroke-width="3" stroke-linecap="round" />
<line x1="214.35" y1="1161" x2="214.35" y2="1167.8" stroke="#000" stroke-width="3" stroke-linecap="round" />
<line x1="214.35" y1="555.7" x2="214.35" y2="562.5" stroke="#000" stroke-width="3" stroke-linecap="round" />
<line x1="297.85" y1="1161" x2="297.85" y2="1167.8" stroke="#000" stroke-width="3" stroke-linecap="round" />
<line x1="297.85" y1="555.7" x2="297.85" y2="562.5" stroke="#000" stroke-width="3" stroke-linecap="round" />
<line x1="381.35" y1="1161" x2="381.35" y2="1167.8" stroke="#000" stroke-width="3" stroke-linecap="round" />
<line x1="381.35" y1="555.7" x2="381.35" y2="562.5" stroke="#000" stroke-width="3" stroke-linecap="round" />
<line x1="464.85" y1="1161" x2="464.85" y2="1167.8" stroke="#000" stroke-width="3" stroke-linecap="round" />
<line x1="464.85" y1="555.7" x2="464.85" y2="562.5" stroke="#000" stroke-width="3" stroke-linecap="round" />
<line x1="548.35" y1="1161" x2="548.35" y2="1167.8" stroke="#000" stroke-width="3" stroke-linecap="round" />
<line x1="548.35" y1="555.7" x2="548.35" y2="562.5" stroke="#000" stroke-width="3" stroke-linecap="round" />
<line x1="631.85" y1="1161" x2="631.85" y2="1167.8" stroke="#000" stroke-width="3" stroke-linecap="round" />
<line x1="631.85" y1="555.7" x2="631.85" y2="562.5" stroke="#000" stroke-width="3" stroke-linecap="round" />
<line x1="715.35" y1="1161" x2="715.35" y2="1167.8" stroke="#000" stroke-width="3" stroke-linecap="round" />
<line x1="715.35" y1="555.7" x2="715.35" y2="562.5" stroke="#000" stroke-width="3" stroke-linecap="round" />
<line x1="798.85" y1="1161" x2="798.85" y2="1167.8" stroke="#000" stroke-width="3" stroke-linecap="round" />
<line x1="798.85" y1="555.7" x2="798.85" y2="562.5" stroke="#000" stroke-width="3" stroke-linecap="round" />
<line x1="882.35" y1="1161" x2="882.35" y2="1167.8" stroke="#000" stroke-width="3" stroke-linecap="round" />
<line x1="882.35" y1="555.7" x2="882.35" y2="562.5" stroke="#000" stroke-width="3" stroke-linecap="round" />
<line x1="965.85" y1="1161" x2="965.85" y2="1167.8" stroke="#000" stroke-width="3" stroke-linecap="round" />
<line x1="965.85" y1="555.7" x2="965.85" y2="562.5" stroke="#000" stroke-width="3" stroke-linecap="round" />
<line x1="201.85" y1="1127.39" x2="214.35" y2="1127.39" stroke="#000" stroke-width="3" stroke-linecap="round" />
<line x1="953.35" y1="1127.39" x2="965.85" y2="1127.39" stroke="#000" stroke-width="3" stroke-linecap="round" />
<line x1="201.85" y1="1060.13" x2="214.35" y2="1060.13" stroke="#000" stroke-width="3" stroke-linecap="round" />
<line x1="953.35" y1="1060.13" x2="965.85" y2="1060.13" stroke="#000" stroke-width="3" stroke-linecap="round" />
<line x1="201.85" y1="992.87" x2="214.35" y2="992.87" stroke="#000" stroke-width="3" stroke-linecap="round" />
<line x1="953.35" y1="992.87" x2="965.85" y2="992.87" stroke="#000" stroke-width="3" stroke-linecap="round" />
<line x1="201.85" y1="925.61" x2="214.35" y2="925.61" stroke="#000" stroke-width="3" stroke-linecap="round" />
<line x1="953.35" y1="925.61" x2="965.85" y2="925.61" stroke="#000" stroke-width="3" stroke-linecap="round" />
<line x1="201.85" y1="858.35" x2="214.35" y2="858.35" stroke="#000" stroke-width="3" stroke-linecap="round" />
<line x1="953.35" y1="858.35" x2="965.85" y2="858.35" stroke="#000" stroke-width="3" stroke-linecap="round" />
<line x1="201.85" y1="791.09" x2="214.35" y2="791.09" stroke="#000" stroke-width="3" stroke-linecap="round" />
<line x1="953.35" y1="791.09" x2="965.85" y2="791.09" stroke="#000" stroke-width="3" stroke-linecap="round" />
<line x1="201.85" y1="723.83" x2="214.35" y2="723.83" stroke="#000" stroke-width="3" stroke-linecap="round" />
<line x1="953.35" y1="723.83" x2="965.85" y2="723.83" stroke="#000" stroke-width="3" stroke-linecap="round" />
<line x1="201.85" y1="656.57" x2="214.35" y2="656.57" stroke="#000" stroke-width="3" stroke-linecap="round" />
<line x1="953.35" y1="656.57" x2="965.85" y2="656.57" stroke="#000" stroke-width="3" stroke-linecap="round" />
<line x1="201.85" y1="589.31" x2="214.35" y2="589.31" stroke="#000" stroke-width="3" stroke-linecap="round" />
<line x1="953.35" y1="589.31" x2="965.85" y2="589.31" stroke="#000" stroke-width="3" stroke-linecap="round" />
<line x1="207.55" y1="1161.02" x2="214.35" y2="1161.02" stroke="#000" stroke-width="3" stroke-linecap="round" />
<line x1="959.05" y1="1161.02" x2="965.85" y2="1161.02" stroke="#000" stroke-width="3" stroke-linecap="round" />
<line x1="207.55" y1="1093.76" x2="214.35" y2="1093.76" stroke="#000" stroke-width="3" stroke-linecap="round" />
<line x1="959.05" y1="1093.76" x2="965.85" y2="1093.76" stroke="#000" stroke-width="3" stroke-linecap="round" />
<line x1="207.55" y1="1026.5" x2="214.35" y2="1026.5" stroke="#000" stroke-width="3" stroke-linecap="round" />
<line x1="959.05" y1="1026.5" x2="965.85" y2="1026.5" stroke="#000" stroke-width="3" stroke-linecap="round" />
<line x1="207.55" y1="959.24" x2="214.35" y2="959.24" stroke="#000" stroke-width="3" stroke-linecap="round" />
<line x1="959.05" y1="959.24" x2="965.85" y2="959.24" stroke="#000" stroke-width="3" stroke-linecap="round" />
<line x1="207.55" y1="891.98" x2="214.35" y2="891.98" stroke="#000" stroke-width="3" stroke-linecap="round" />
<line x1="959.05" y1="891.98" x2="965.85" y2="891.98" stroke="#000" stroke-width="3" stroke-linecap="round" />
<line x1="207.55" y1="824.72" x2="214.35" y2="824.72" stroke="#000" stroke-width="3" stroke-linecap="round" />
<line x1="959.05" y1="824.72" x2="965.85" y2="824.72" stroke="#000" stroke-width="3" stroke-linecap="round" />
<line x1="207.55" y1="757.46" x2="214.35" y2="757.46" stroke="#000" stroke-width="3" stroke-linecap="round" />
<line x1="959.05" y1="757.46" x2="965.85" y2="757.46" stroke="#000" stroke-width="3" stroke-linecap="round" />
<line x1="207.55" y1="690.2" x2="214.35" y2="690.2" stroke="#000" stroke-width="3" stroke-linecap="round" />
<line x1="959.05" y1="690.2" x2="965.85" y2="690.2" stroke="#000" stroke-width="3" stroke-linecap="round" />
<line x1="207.55" y1="622.94" x2="214.35" y2="622.94" stroke="#000" stroke-width="3" stroke-linecap="round" />
<line x1="959.05" y1="622.94" x2="965.85" y2="622.94" stroke="#000" stroke-width="3" stroke-linecap="round" />
<line x1="207.55" y1="555.68" x2="214.35" y2="555.68" stroke="#000" stroke-width="3" stroke-linecap="round" />
<line x1="959.05" y1="555.68" x2="965.85" y2="555.68" stroke="#000" stroke-width="3" stroke-linecap="round" />
</g>
<rect x="214.35" y="555.7" width="751.5" height="605.3" fill="none" stroke="#000" stroke-width="3"/>
<text x="194.85" y="1136.29" font-family="'Liberation Sans', Arial, sans-serif" font-size="28.5" text-anchor="end" >-0.8</text>
<text x="194.85" y="1069.03" font-family="'Liberation Sans', Arial, sans-serif" font-size="28.5" text-anchor="end" >-0.6</text>
<text x="194.85" y="1001.77" font-family="'Liberation Sans', Arial, sans-serif" font-size="28.5" text-anchor="end" >-0.4</text>
<text x="194.85" y="934.51" font-family="'Liberation Sans', Arial, sans-serif" font-size="28.5" text-anchor="end" >-0.2</text>
<text x="194.85" y="867.25" font-family="'Liberation Sans', Arial, sans-serif" font-size="28.5" text-anchor="end" >0.0</text>
<text x="194.85" y="799.99" font-family="'Liberation Sans', Arial, sans-serif" font-size="28.5" text-anchor="end" >0.2</text>
<text x="194.85" y="732.73" font-family="'Liberation Sans', Arial, sans-serif" font-size="28.5" text-anchor="end" >0.4</text>
<text x="194.85" y="665.47" font-family="'Liberation Sans', Arial, sans-serif" font-size="28.5" text-anchor="end" >0.6</text>
<text x="194.85" y="598.21" font-family="'Liberation Sans', Arial, sans-serif" font-size="28.5" text-anchor="end" >0.8</text>
<text x="256.1" y="1202.6" font-family="'Liberation Sans', Arial, sans-serif" font-size="28.5" text-anchor="middle" >-0.8</text>
<text x="339.6" y="1202.6" font-family="'Liberation Sans', Arial, sans-serif" font-size="28.5" text-anchor="middle" >-0.6</text>
<text x="423.1" y="1202.6" font-family="'Liberation Sans', Arial, sans-serif" font-size="28.5" text-anchor="middle" >-0.4</text>
<text x="506.6" y="1202.6" font-family="'Liberation Sans', Arial, sans-serif" font-size="28.5" text-anchor="middle" >-0.2</text>
<text x="590.1" y="1202.6" font-family="'Liberation Sans', Arial, sans-serif" font-size="28.5" text-anchor="middle" >0.0</text>
<text x="673.6" y="1202.6" font-family="'Liberation Sans', Arial, sans-serif" font-size="28.5" text-anchor="middle" >0.2</text>
<text x="757.1" y="1202.6" font-family="'Liberation Sans', Arial, sans-serif" font-size="28.5" text-anchor="middle" >0.4</text>
<text x="840.6" y="1202.6" font-family="'Liberation Sans', Arial, sans-serif" font-size="28.5" text-anchor="middle" >0.6</text>
<text x="924.1" y="1202.6" font-family="'Liberation Sans', Arial, sans-serif" font-size="28.5" text-anchor="middle" >0.8</text>
<text x="0" y="0" font-family="'Liberation Sans', Arial, sans-serif" font-size="40.5" text-anchor="middle" transform="translate(106.6,834.7) rotate(-90)">Current (mA)</text>
<text x="589.7" y="1260.6" font-family="'Liberation Sans', Arial, sans-serif" font-size="40.5" text-anchor="middle" >Voltage (V)</text>
<text x="-1.5" y="1275.6" font-family="'Liberation Serif', 'Times New Roman', serif" font-size="50.5" >(c)</text>
<g stroke="#000" stroke-width="3" stroke-linecap="round">
<line x1="1277.39" y1="1160.5" x2="1277.39" y2="1173" stroke="#000" stroke-width="3" stroke-linecap="round" />
<line x1="1277.39" y1="555.6" x2="1277.39" y2="568.1" stroke="#000" stroke-width="3" stroke-linecap="round" />
<line x1="1384.71" y1="1160.5" x2="1384.71" y2="1173" stroke="#000" stroke-width="3" stroke-linecap="round" />
<line x1="1384.71" y1="555.6" x2="1384.71" y2="568.1" stroke="#000" stroke-width="3" stroke-linecap="round" />
<line x1="1492.03" y1="1160.5" x2="1492.03" y2="1173" stroke="#000" stroke-width="3" stroke-linecap="round" />
<line x1="1492.03" y1="555.6" x2="1492.03" y2="568.1" stroke="#000" stroke-width="3" stroke-linecap="round" />
<line x1="1599.35" y1="1160.5" x2="1599.35" y2="1173" stroke="#000" stroke-width="3" stroke-linecap="round" />
<line x1="1599.35" y1="555.6" x2="1599.35" y2="568.1" stroke="#000" stroke-width="3" stroke-linecap="round" />
<line x1="1706.67" y1="1160.5" x2="1706.67" y2="1173" stroke="#000" stroke-width="3" stroke-linecap="round" />
<line x1="1706.67" y1="555.6" x2="1706.67" y2="568.1" stroke="#000" stroke-width="3" stroke-linecap="round" />
<line x1="1813.99" y1="1160.5" x2="1813.99" y2="1173" stroke="#000" stroke-width="3" stroke-linecap="round" />
<line x1="1813.99" y1="555.6" x2="1813.99" y2="568.1" stroke="#000" stroke-width="3" stroke-linecap="round" />
<line x1="1921.31" y1="1160.5" x2="1921.31" y2="1173" stroke="#000" stroke-width="3" stroke-linecap="round" />
<line x1="1921.31" y1="555.6" x2="1921.31" y2="568.1" stroke="#000" stroke-width="3" stroke-linecap="round" />
<line x1="1223.73" y1="1160.5" x2="1223.73" y2="1167.3" stroke="#000" stroke-width="3" stroke-linecap="round" />
<line x1="1223.73" y1="555.6" x2="1223.73" y2="562.4" stroke="#000" stroke-width="3" stroke-linecap="round" />
<line x1="1331.05" y1="1160.5" x2="1331.05" y2="1167.3" stroke="#000" stroke-width="3" stroke-linecap="round" />
<line x1="1331.05" y1="555.6" x2="1331.05" y2="562.4" stroke="#000" stroke-width="3" stroke-linecap="round" />
<line x1="1438.37" y1="1160.5" x2="1438.37" y2="1167.3" stroke="#000" stroke-width="3" stroke-linecap="round" />
<line x1="1438.37" y1="555.6" x2="1438.37" y2="562.4" stroke="#000" stroke-width="3" stroke-linecap="round" />
<line x1="1545.69" y1="1160.5" x2="1545.69" y2="1167.3" stroke="#000" stroke-width="3" stroke-linecap="round" />
<line x1="1545.69" y1="555.6" x2="1545.69" y2="562.4" stroke="#000" stroke-width="3" stroke-linecap="round" />
<line x1="1653.01" y1="1160.5" x2="1653.01" y2="1167.3" stroke="#000" stroke-width="3" stroke-linecap="round" />
<line x1="1653.01" y1="555.6" x2="1653.01" y2="562.4" stroke="#000" stroke-width="3" stroke-linecap="round" />
<line x1="1760.33" y1="1160.5" x2="1760.33" y2="1167.3" stroke="#000" stroke-width="3" stroke-linecap="round" />
<line x1="1760.33" y1="555.6" x2="1760.33" y2="562.4" stroke="#000" stroke-width="3" stroke-linecap="round" />
<line x1="1867.65" y1="1160.5" x2="1867.65" y2="1167.3" stroke="#000" stroke-width="3" stroke-linecap="round" />
<line x1="1867.65" y1="555.6" x2="1867.65" y2="562.4" stroke="#000" stroke-width="3" stroke-linecap="round" />
<line x1="1974.97" y1="1160.5" x2="1974.97" y2="1167.3" stroke="#000" stroke-width="3" stroke-linecap="round" />
<line x1="1974.97" y1="555.6" x2="1974.97" y2="562.4" stroke="#000" stroke-width="3" stroke-linecap="round" />
<line x1="1211.2" y1="1096.8" x2="1223.7" y2="1096.8" stroke="#000" stroke-width="3" stroke-linecap="round" />
<line x1="1962.4" y1="1096.8" x2="1974.9" y2="1096.8" stroke="#000" stroke-width="3" stroke-linecap="round" />
<line x1="1211.2" y1="969.45" x2="1223.7" y2="969.45" stroke="#000" stroke-width="3" stroke-linecap="round" />
<line x1="1962.4" y1="969.45" x2="1974.9" y2="969.45" stroke="#000" stroke-width="3" stroke-linecap="round" />
<line x1="1211.2" y1="842.1" x2="1223.7" y2="842.1" stroke="#000" stroke-width="3" stroke-linecap="round" />
<line x1="1962.4" y1="842.1" x2="1974.9" y2="842.1" stroke="#000" stroke-width="3" stroke-linecap="round" />
<line x1="1211.2" y1="714.75" x2="1223.7" y2="714.75" stroke="#000" stroke-width="3" stroke-linecap="round" />
<line x1="1962.4" y1="714.75" x2="1974.9" y2="714.75" stroke="#000" stroke-width="3" stroke-linecap="round" />
<line x1="1211.2" y1="587.4" x2="1223.7" y2="587.4" stroke="#000" stroke-width="3" stroke-linecap="round" />
<line x1="1962.4" y1="587.4" x2="1974.9" y2="587.4" stroke="#000" stroke-width="3" stroke-linecap="round" />
<line x1="1216.9" y1="1160.47" x2="1223.7" y2="1160.47" stroke="#000" stroke-width="3" stroke-linecap="round" />
<line x1="1968.1" y1="1160.47" x2="1974.9" y2="1160.47" stroke="#000" stroke-width="3" stroke-linecap="round" />
<line x1="1216.9" y1="1033.12" x2="1223.7" y2="1033.12" stroke="#000" stroke-width="3" stroke-linecap="round" />
<line x1="1968.1" y1="1033.12" x2="1974.9" y2="1033.12" stroke="#000" stroke-width="3" stroke-linecap="round" />
<line x1="1216.9" y1="905.77" x2="1223.7" y2="905.77" stroke="#000" stroke-width="3" stroke-linecap="round" />
<line x1="1968.1" y1="905.77" x2="1974.9" y2="905.77" stroke="#000" stroke-width="3" stroke-linecap="round" />
<line x1="1216.9" y1="778.43" x2="1223.7" y2="778.43" stroke="#000" stroke-width="3" stroke-linecap="round" />
<line x1="1968.1" y1="778.43" x2="1974.9" y2="778.43" stroke="#000" stroke-width="3" stroke-linecap="round" />
<line x1="1216.9" y1="651.08" x2="1223.7" y2="651.08" stroke="#000" stroke-width="3" stroke-linecap="round" />
<line x1="1968.1" y1="651.08" x2="1974.9" y2="651.08" stroke="#000" stroke-width="3" stroke-linecap="round" />
</g>
<rect x="1223.7" y="555.6" width="751.2" height="604.9" fill="none" stroke="#000" stroke-width="3"/>
<text x="1203.9" y="1105.1" font-family="'Liberation Sans', Arial, sans-serif" font-size="29" text-anchor="end" >-0.4</text>
<text x="1203.9" y="977.75" font-family="'Liberation Sans', Arial, sans-serif" font-size="29" text-anchor="end" >-0.2</text>
<text x="1203.9" y="850.4" font-family="'Liberation Sans', Arial, sans-serif" font-size="29" text-anchor="end" >0.0</text>
<text x="1203.9" y="723.05" font-family="'Liberation Sans', Arial, sans-serif" font-size="29" text-anchor="end" >0.2</text>
<text x="1203.9" y="595.7" font-family="'Liberation Sans', Arial, sans-serif" font-size="29" text-anchor="end" >0.4</text>
<text x="1277.39" y="1202.2" font-family="'Liberation Sans', Arial, sans-serif" font-size="29" text-anchor="middle" >-0.6</text>
<text x="1384.71" y="1202.2" font-family="'Liberation Sans', Arial, sans-serif" font-size="29" text-anchor="middle" >-0.4</text>
<text x="1492.03" y="1202.2" font-family="'Liberation Sans', Arial, sans-serif" font-size="29" text-anchor="middle" >-0.2</text>
<text x="1599.35" y="1202.2" font-family="'Liberation Sans', Arial, sans-serif" font-size="29" text-anchor="middle" >0.0</text>
<text x="1706.67" y="1202.2" font-family="'Liberation Sans', Arial, sans-serif" font-size="29" text-anchor="middle" >0.2</text>
<text x="1813.99" y="1202.2" font-family="'Liberation Sans', Arial, sans-serif" font-size="29" text-anchor="middle" >0.4</text>
<text x="1921.31" y="1202.2" font-family="'Liberation Sans', Arial, sans-serif" font-size="29" text-anchor="middle" >0.6</text>
<text x="0" y="0" font-family="'Liberation Sans', Arial, sans-serif" font-size="40.5" text-anchor="middle" transform="translate(1115.8,845.7) rotate(-90)">Current (mA)</text>
<text x="1599.5" y="1259.8" font-family="'Liberation Sans', Arial, sans-serif" font-size="40.5" text-anchor="middle" >Voltage (V)</text>
<text x="1003.8" y="1275.3" font-family="'Liberation Serif', 'Times New Roman', serif" font-size="50.5" >(d)</text>
<g stroke="#000" stroke-width="2.5" stroke-linecap="round">
<line x1="272.6" y1="1915.3" x2="272.6" y2="1927.8" stroke="#000" stroke-width="2.5" stroke-linecap="round" />
<line x1="272.6" y1="1310.1" x2="272.6" y2="1322.6" stroke="#000" stroke-width="2.5" stroke-linecap="round" />
<line x1="379.9" y1="1915.3" x2="379.9" y2="1927.8" stroke="#000" stroke-width="2.5" stroke-linecap="round" />
<line x1="379.9" y1="1310.1" x2="379.9" y2="1322.6" stroke="#000" stroke-width="2.5" stroke-linecap="round" />
<line x1="487.2" y1="1915.3" x2="487.2" y2="1927.8" stroke="#000" stroke-width="2.5" stroke-linecap="round" />
<line x1="487.2" y1="1310.1" x2="487.2" y2="1322.6" stroke="#000" stroke-width="2.5" stroke-linecap="round" />
<line x1="594.5" y1="1915.3" x2="594.5" y2="1927.8" stroke="#000" stroke-width="2.5" stroke-linecap="round" />
<line x1="594.5" y1="1310.1" x2="594.5" y2="1322.6" stroke="#000" stroke-width="2.5" stroke-linecap="round" />
<line x1="701.8" y1="1915.3" x2="701.8" y2="1927.8" stroke="#000" stroke-width="2.5" stroke-linecap="round" />
<line x1="701.8" y1="1310.1" x2="701.8" y2="1322.6" stroke="#000" stroke-width="2.5" stroke-linecap="round" />
<line x1="809.1" y1="1915.3" x2="809.1" y2="1927.8" stroke="#000" stroke-width="2.5" stroke-linecap="round" />
<line x1="809.1" y1="1310.1" x2="809.1" y2="1322.6" stroke="#000" stroke-width="2.5" stroke-linecap="round" />
<line x1="916.4" y1="1915.3" x2="916.4" y2="1927.8" stroke="#000" stroke-width="2.5" stroke-linecap="round" />
<line x1="916.4" y1="1310.1" x2="916.4" y2="1322.6" stroke="#000" stroke-width="2.5" stroke-linecap="round" />
<line x1="218.95" y1="1915.3" x2="218.95" y2="1922.1" stroke="#000" stroke-width="2.5" stroke-linecap="round" />
<line x1="218.95" y1="1310.1" x2="218.95" y2="1316.9" stroke="#000" stroke-width="2.5" stroke-linecap="round" />
<line x1="326.25" y1="1915.3" x2="326.25" y2="1922.1" stroke="#000" stroke-width="2.5" stroke-linecap="round" />
<line x1="326.25" y1="1310.1" x2="326.25" y2="1316.9" stroke="#000" stroke-width="2.5" stroke-linecap="round" />
<line x1="433.55" y1="1915.3" x2="433.55" y2="1922.1" stroke="#000" stroke-width="2.5" stroke-linecap="round" />
<line x1="433.55" y1="1310.1" x2="433.55" y2="1316.9" stroke="#000" stroke-width="2.5" stroke-linecap="round" />
<line x1="540.85" y1="1915.3" x2="540.85" y2="1922.1" stroke="#000" stroke-width="2.5" stroke-linecap="round" />
<line x1="540.85" y1="1310.1" x2="540.85" y2="1316.9" stroke="#000" stroke-width="2.5" stroke-linecap="round" />
<line x1="648.15" y1="1915.3" x2="648.15" y2="1922.1" stroke="#000" stroke-width="2.5" stroke-linecap="round" />
<line x1="648.15" y1="1310.1" x2="648.15" y2="1316.9" stroke="#000" stroke-width="2.5" stroke-linecap="round" />
<line x1="755.45" y1="1915.3" x2="755.45" y2="1922.1" stroke="#000" stroke-width="2.5" stroke-linecap="round" />
<line x1="755.45" y1="1310.1" x2="755.45" y2="1316.9" stroke="#000" stroke-width="2.5" stroke-linecap="round" />
<line x1="862.75" y1="1915.3" x2="862.75" y2="1922.1" stroke="#000" stroke-width="2.5" stroke-linecap="round" />
<line x1="862.75" y1="1310.1" x2="862.75" y2="1316.9" stroke="#000" stroke-width="2.5" stroke-linecap="round" />
<line x1="970.05" y1="1915.3" x2="970.05" y2="1922.1" stroke="#000" stroke-width="2.5" stroke-linecap="round" />
<line x1="970.05" y1="1310.1" x2="970.05" y2="1316.9" stroke="#000" stroke-width="2.5" stroke-linecap="round" />
<line x1="206.5" y1="1851.59" x2="219" y2="1851.59" stroke="#000" stroke-width="2.5" stroke-linecap="round" />
<line x1="957.5" y1="1851.59" x2="970" y2="1851.59" stroke="#000" stroke-width="2.5" stroke-linecap="round" />
<line x1="206.5" y1="1724.17" x2="219" y2="1724.17" stroke="#000" stroke-width="2.5" stroke-linecap="round" />
<line x1="957.5" y1="1724.17" x2="970" y2="1724.17" stroke="#000" stroke-width="2.5" stroke-linecap="round" />
<line x1="206.5" y1="1596.75" x2="219" y2="1596.75" stroke="#000" stroke-width="2.5" stroke-linecap="round" />
<line x1="957.5" y1="1596.75" x2="970" y2="1596.75" stroke="#000" stroke-width="2.5" stroke-linecap="round" />
<line x1="206.5" y1="1469.33" x2="219" y2="1469.33" stroke="#000" stroke-width="2.5" stroke-linecap="round" />
<line x1="957.5" y1="1469.33" x2="970" y2="1469.33" stroke="#000" stroke-width="2.5" stroke-linecap="round" />
<line x1="206.5" y1="1341.91" x2="219" y2="1341.91" stroke="#000" stroke-width="2.5" stroke-linecap="round" />
<line x1="957.5" y1="1341.91" x2="970" y2="1341.91" stroke="#000" stroke-width="2.5" stroke-linecap="round" />
<line x1="212.2" y1="1915.3" x2="219" y2="1915.3" stroke="#000" stroke-width="2.5" stroke-linecap="round" />
<line x1="963.2" y1="1915.3" x2="970" y2="1915.3" stroke="#000" stroke-width="2.5" stroke-linecap="round" />
<line x1="212.2" y1="1787.88" x2="219" y2="1787.88" stroke="#000" stroke-width="2.5" stroke-linecap="round" />
<line x1="963.2" y1="1787.88" x2="970" y2="1787.88" stroke="#000" stroke-width="2.5" stroke-linecap="round" />
<line x1="212.2" y1="1660.46" x2="219" y2="1660.46" stroke="#000" stroke-width="2.5" stroke-linecap="round" />
<line x1="963.2" y1="1660.46" x2="970" y2="1660.46" stroke="#000" stroke-width="2.5" stroke-linecap="round" />
<line x1="212.2" y1="1533.04" x2="219" y2="1533.04" stroke="#000" stroke-width="2.5" stroke-linecap="round" />
<line x1="963.2" y1="1533.04" x2="970" y2="1533.04" stroke="#000" stroke-width="2.5" stroke-linecap="round" />
<line x1="212.2" y1="1405.62" x2="219" y2="1405.62" stroke="#000" stroke-width="2.5" stroke-linecap="round" />
<line x1="963.2" y1="1405.62" x2="970" y2="1405.62" stroke="#000" stroke-width="2.5" stroke-linecap="round" />
</g>
<rect x="219" y="1310.1" width="751" height="605.2" fill="none" stroke="#000" stroke-width="2.5"/>
<text x="198.9" y="1859.69" font-family="'Liberation Sans', Arial, sans-serif" font-size="26" text-anchor="end" >-0.4</text>
<text x="198.9" y="1732.27" font-family="'Liberation Sans', Arial, sans-serif" font-size="26" text-anchor="end" >-0.2</text>
<text x="198.9" y="1604.85" font-family="'Liberation Sans', Arial, sans-serif" font-size="26" text-anchor="end" >0.0</text>
<text x="198.9" y="1477.43" font-family="'Liberation Sans', Arial, sans-serif" font-size="26" text-anchor="end" >0.2</text>
<text x="198.9" y="1350.01" font-family="'Liberation Sans', Arial, sans-serif" font-size="26" text-anchor="end" >0.4</text>
<text x="272.6" y="1956.8" font-family="'Liberation Serif', 'Times New Roman', serif" font-size="28.5" text-anchor="middle" >-0.6</text>
<text x="379.9" y="1956.8" font-family="'Liberation Serif', 'Times New Roman', serif" font-size="28.5" text-anchor="middle" >-0.4</text>
<text x="487.2" y="1956.8" font-family="'Liberation Serif', 'Times New Roman', serif" font-size="28.5" text-anchor="middle" >-0.2</text>
<text x="594.5" y="1956.8" font-family="'Liberation Serif', 'Times New Roman', serif" font-size="28.5" text-anchor="middle" >0.0</text>
<text x="701.8" y="1956.8" font-family="'Liberation Serif', 'Times New Roman', serif" font-size="28.5" text-anchor="middle" >0.2</text>
<text x="809.1" y="1956.8" font-family="'Liberation Serif', 'Times New Roman', serif" font-size="28.5" text-anchor="middle" >0.4</text>
<text x="916.4" y="1956.8" font-family="'Liberation Serif', 'Times New Roman', serif" font-size="28.5" text-anchor="middle" >0.6</text>
<text x="0" y="0" font-family="'Liberation Sans', Arial, sans-serif" font-size="40.5" text-anchor="middle" transform="translate(116.7,1600.75) rotate(-90)">Current (mA)</text>
<text x="594.9" y="2014.7" font-family="'Liberation Sans', Arial, sans-serif" font-size="40.5" text-anchor="middle" >Voltage (V)</text>
<text x="1.8" y="2029.5" font-family="'Liberation Serif', 'Times New Roman', serif" font-size="50.5" >(e)</text>
<g stroke="#000" stroke-width="3" stroke-linecap="round">
<line x1="1219.28" y1="1915.5" x2="1219.28" y2="1922.5" stroke="#000" stroke-width="3" stroke-linecap="round" />
<line x1="1219.28" y1="1309.5" x2="1219.28" y2="1316.5" stroke="#000" stroke-width="3" stroke-linecap="round" />
<line x1="1235.81" y1="1915.5" x2="1235.81" y2="1922.5" stroke="#000" stroke-width="3" stroke-linecap="round" />
<line x1="1235.81" y1="1309.5" x2="1235.81" y2="1316.5" stroke="#000" stroke-width="3" stroke-linecap="round" />
<line x1="1249.78" y1="1915.5" x2="1249.78" y2="1922.5" stroke="#000" stroke-width="3" stroke-linecap="round" />
<line x1="1249.78" y1="1309.5" x2="1249.78" y2="1316.5" stroke="#000" stroke-width="3" stroke-linecap="round" />
<line x1="1261.88" y1="1915.5" x2="1261.88" y2="1922.5" stroke="#000" stroke-width="3" stroke-linecap="round" />
<line x1="1261.88" y1="1309.5" x2="1261.88" y2="1316.5" stroke="#000" stroke-width="3" stroke-linecap="round" />
<line x1="1272.55" y1="1915.5" x2="1272.55" y2="1922.5" stroke="#000" stroke-width="3" stroke-linecap="round" />
<line x1="1272.55" y1="1309.5" x2="1272.55" y2="1316.5" stroke="#000" stroke-width="3" stroke-linecap="round" />
<line x1="1282.1" y1="1915.5" x2="1282.1" y2="1928" stroke="#000" stroke-width="3" stroke-linecap="round" />
<line x1="1282.1" y1="1309.5" x2="1282.1" y2="1322" stroke="#000" stroke-width="3" stroke-linecap="round" />
<line x1="1344.92" y1="1915.5" x2="1344.92" y2="1922.5" stroke="#000" stroke-width="3" stroke-linecap="round" />
<line x1="1344.92" y1="1309.5" x2="1344.92" y2="1316.5" stroke="#000" stroke-width="3" stroke-linecap="round" />
<line x1="1381.66" y1="1915.5" x2="1381.66" y2="1922.5" stroke="#000" stroke-width="3" stroke-linecap="round" />
<line x1="1381.66" y1="1309.5" x2="1381.66" y2="1316.5" stroke="#000" stroke-width="3" stroke-linecap="round" />
<line x1="1407.73" y1="1915.5" x2="1407.73" y2="1922.5" stroke="#000" stroke-width="3" stroke-linecap="round" />
<line x1="1407.73" y1="1309.5" x2="1407.73" y2="1316.5" stroke="#000" stroke-width="3" stroke-linecap="round" />
<line x1="1427.95" y1="1915.5" x2="1427.95" y2="1922.5" stroke="#000" stroke-width="3" stroke-linecap="round" />
<line x1="1427.95" y1="1309.5" x2="1427.95" y2="1316.5" stroke="#000" stroke-width="3" stroke-linecap="round" />
<line x1="1444.48" y1="1915.5" x2="1444.48" y2="1922.5" stroke="#000" stroke-width="3" stroke-linecap="round" />
<line x1="1444.48" y1="1309.5" x2="1444.48" y2="1316.5" stroke="#000" stroke-width="3" stroke-linecap="round" />
<line x1="1458.45" y1="1915.5" x2="1458.45" y2="1922.5" stroke="#000" stroke-width="3" stroke-linecap="round" />
<line x1="1458.45" y1="1309.5" x2="1458.45" y2="1316.5" stroke="#000" stroke-width="3" stroke-linecap="round" />
<line x1="1470.55" y1="1915.5" x2="1470.55" y2="1922.5" stroke="#000" stroke-width="3" stroke-linecap="round" />
<line x1="1470.55" y1="1309.5" x2="1470.55" y2="1316.5" stroke="#000" stroke-width="3" stroke-linecap="round" />
<line x1="1481.22" y1="1915.5" x2="1481.22" y2="1922.5" stroke="#000" stroke-width="3" stroke-linecap="round" />
<line x1="1481.22" y1="1309.5" x2="1481.22" y2="1316.5" stroke="#000" stroke-width="3" stroke-linecap="round" />
<line x1="1490.77" y1="1915.5" x2="1490.77" y2="1928" stroke="#000" stroke-width="3" stroke-linecap="round" />
<line x1="1490.77" y1="1309.5" x2="1490.77" y2="1322" stroke="#000" stroke-width="3" stroke-linecap="round" />
<line x1="1553.59" y1="1915.5" x2="1553.59" y2="1922.5" stroke="#000" stroke-width="3" stroke-linecap="round" />
<line x1="1553.59" y1="1309.5" x2="1553.59" y2="1316.5" stroke="#000" stroke-width="3" stroke-linecap="round" />
<line x1="1590.33" y1="1915.5" x2="1590.33" y2="1922.5" stroke="#000" stroke-width="3" stroke-linecap="round" />
<line x1="1590.33" y1="1309.5" x2="1590.33" y2="1316.5" stroke="#000" stroke-width="3" stroke-linecap="round" />
<line x1="1616.4" y1="1915.5" x2="1616.4" y2="1922.5" stroke="#000" stroke-width="3" stroke-linecap="round" />
<line x1="1616.4" y1="1309.5" x2="1616.4" y2="1316.5" stroke="#000" stroke-width="3" stroke-linecap="round" />
<line x1="1636.62" y1="1915.5" x2="1636.62" y2="1922.5" stroke="#000" stroke-width="3" stroke-linecap="round" />
<line x1="1636.62" y1="1309.5" x2="1636.62" y2="1316.5" stroke="#000" stroke-width="3" stroke-linecap="round" />
<line x1="1653.15" y1="1915.5" x2="1653.15" y2="1922.5" stroke="#000" stroke-width="3" stroke-linecap="round" />
<line x1="1653.15" y1="1309.5" x2="1653.15" y2="1316.5" stroke="#000" stroke-width="3" stroke-linecap="round" />
<line x1="1667.12" y1="1915.5" x2="1667.12" y2="1922.5" stroke="#000" stroke-width="3" stroke-linecap="round" />
<line x1="1667.12" y1="1309.5" x2="1667.12" y2="1316.5" stroke="#000" stroke-width="3" stroke-linecap="round" />
<line x1="1679.22" y1="1915.5" x2="1679.22" y2="1922.5" stroke="#000" stroke-width="3" stroke-linecap="round" />
<line x1="1679.22" y1="1309.5" x2="1679.22" y2="1316.5" stroke="#000" stroke-width="3" stroke-linecap="round" />
<line x1="1689.89" y1="1915.5" x2="1689.89" y2="1922.5" stroke="#000" stroke-width="3" stroke-linecap="round" />
<line x1="1689.89" y1="1309.5" x2="1689.89" y2="1316.5" stroke="#000" stroke-width="3" stroke-linecap="round" />
<line x1="1699.44" y1="1915.5" x2="1699.44" y2="1928" stroke="#000" stroke-width="3" stroke-linecap="round" />
<line x1="1699.44" y1="1309.5" x2="1699.44" y2="1322" stroke="#000" stroke-width="3" stroke-linecap="round" />
<line x1="1762.26" y1="1915.5" x2="1762.26" y2="1922.5" stroke="#000" stroke-width="3" stroke-linecap="round" />
<line x1="1762.26" y1="1309.5" x2="1762.26" y2="1316.5" stroke="#000" stroke-width="3" stroke-linecap="round" />
<line x1="1799" y1="1915.5" x2="1799" y2="1922.5" stroke="#000" stroke-width="3" stroke-linecap="round" />
<line x1="1799" y1="1309.5" x2="1799" y2="1316.5" stroke="#000" stroke-width="3" stroke-linecap="round" />
<line x1="1825.07" y1="1915.5" x2="1825.07" y2="1922.5" stroke="#000" stroke-width="3" stroke-linecap="round" />
<line x1="1825.07" y1="1309.5" x2="1825.07" y2="1316.5" stroke="#000" stroke-width="3" stroke-linecap="round" />
<line x1="1845.29" y1="1915.5" x2="1845.29" y2="1922.5" stroke="#000" stroke-width="3" stroke-linecap="round" />
<line x1="1845.29" y1="1309.5" x2="1845.29" y2="1316.5" stroke="#000" stroke-width="3" stroke-linecap="round" />
<line x1="1861.82" y1="1915.5" x2="1861.82" y2="1922.5" stroke="#000" stroke-width="3" stroke-linecap="round" />
<line x1="1861.82" y1="1309.5" x2="1861.82" y2="1316.5" stroke="#000" stroke-width="3" stroke-linecap="round" />
<line x1="1875.79" y1="1915.5" x2="1875.79" y2="1922.5" stroke="#000" stroke-width="3" stroke-linecap="round" />
<line x1="1875.79" y1="1309.5" x2="1875.79" y2="1316.5" stroke="#000" stroke-width="3" stroke-linecap="round" />
<line x1="1887.89" y1="1915.5" x2="1887.89" y2="1922.5" stroke="#000" stroke-width="3" stroke-linecap="round" />
<line x1="1887.89" y1="1309.5" x2="1887.89" y2="1316.5" stroke="#000" stroke-width="3" stroke-linecap="round" />
<line x1="1898.56" y1="1915.5" x2="1898.56" y2="1922.5" stroke="#000" stroke-width="3" stroke-linecap="round" />
<line x1="1898.56" y1="1309.5" x2="1898.56" y2="1316.5" stroke="#000" stroke-width="3" stroke-linecap="round" />
<line x1="1908.11" y1="1915.5" x2="1908.11" y2="1928" stroke="#000" stroke-width="3" stroke-linecap="round" />
<line x1="1908.11" y1="1309.5" x2="1908.11" y2="1322" stroke="#000" stroke-width="3" stroke-linecap="round" />
<line x1="1970.93" y1="1915.5" x2="1970.93" y2="1922.5" stroke="#000" stroke-width="3" stroke-linecap="round" />
<line x1="1970.93" y1="1309.5" x2="1970.93" y2="1316.5" stroke="#000" stroke-width="3" stroke-linecap="round" />
<line x1="1212.3" y1="1915.08" x2="1219.3" y2="1915.08" stroke="#000" stroke-width="3" stroke-linecap="round" />
<line x1="1963.7" y1="1915.08" x2="1970.7" y2="1915.08" stroke="#000" stroke-width="3" stroke-linecap="round" />
<line x1="1212.3" y1="1893.61" x2="1219.3" y2="1893.61" stroke="#000" stroke-width="3" stroke-linecap="round" />
<line x1="1963.7" y1="1893.61" x2="1970.7" y2="1893.61" stroke="#000" stroke-width="3" stroke-linecap="round" />
<line x1="1212.3" y1="1876.95" x2="1219.3" y2="1876.95" stroke="#000" stroke-width="3" stroke-linecap="round" />
<line x1="1963.7" y1="1876.95" x2="1970.7" y2="1876.95" stroke="#000" stroke-width="3" stroke-linecap="round" />
<line x1="1212.3" y1="1863.34" x2="1219.3" y2="1863.34" stroke="#000" stroke-width="3" stroke-linecap="round" />
<line x1="1963.7" y1="1863.34" x2="1970.7" y2="1863.34" stroke="#000" stroke-width="3" stroke-linecap="round" />
<line x1="1212.3" y1="1851.83" x2="1219.3" y2="1851.83" stroke="#000" stroke-width="3" stroke-linecap="round" />
<line x1="1963.7" y1="1851.83" x2="1970.7" y2="1851.83" stroke="#000" stroke-width="3" stroke-linecap="round" />
<line x1="1212.3" y1="1841.86" x2="1219.3" y2="1841.86" stroke="#000" stroke-width="3" stroke-linecap="round" />
<line x1="1963.7" y1="1841.86" x2="1970.7" y2="1841.86" stroke="#000" stroke-width="3" stroke-linecap="round" />
<line x1="1212.3" y1="1833.07" x2="1219.3" y2="1833.07" stroke="#000" stroke-width="3" stroke-linecap="round" />
<line x1="1963.7" y1="1833.07" x2="1970.7" y2="1833.07" stroke="#000" stroke-width="3" stroke-linecap="round" />
<line x1="1206.8" y1="1825.2" x2="1219.3" y2="1825.2" stroke="#000" stroke-width="3" stroke-linecap="round" />
<line x1="1958.2" y1="1825.2" x2="1970.7" y2="1825.2" stroke="#000" stroke-width="3" stroke-linecap="round" />
<line x1="1212.3" y1="1773.45" x2="1219.3" y2="1773.45" stroke="#000" stroke-width="3" stroke-linecap="round" />
<line x1="1963.7" y1="1773.45" x2="1970.7" y2="1773.45" stroke="#000" stroke-width="3" stroke-linecap="round" />
<line x1="1212.3" y1="1743.18" x2="1219.3" y2="1743.18" stroke="#000" stroke-width="3" stroke-linecap="round" />
<line x1="1963.7" y1="1743.18" x2="1970.7" y2="1743.18" stroke="#000" stroke-width="3" stroke-linecap="round" />
<line x1="1212.3" y1="1721.71" x2="1219.3" y2="1721.71" stroke="#000" stroke-width="3" stroke-linecap="round" />
<line x1="1963.7" y1="1721.71" x2="1970.7" y2="1721.71" stroke="#000" stroke-width="3" stroke-linecap="round" />
<line x1="1212.3" y1="1705.05" x2="1219.3" y2="1705.05" stroke="#000" stroke-width="3" stroke-linecap="round" />
<line x1="1963.7" y1="1705.05" x2="1970.7" y2="1705.05" stroke="#000" stroke-width="3" stroke-linecap="round" />
<line x1="1212.3" y1="1691.44" x2="1219.3" y2="1691.44" stroke="#000" stroke-width="3" stroke-linecap="round" />
<line x1="1963.7" y1="1691.44" x2="1970.7" y2="1691.44" stroke="#000" stroke-width="3" stroke-linecap="round" />
<line x1="1212.3" y1="1679.93" x2="1219.3" y2="1679.93" stroke="#000" stroke-width="3" stroke-linecap="round" />
<line x1="1963.7" y1="1679.93" x2="1970.7" y2="1679.93" stroke="#000" stroke-width="3" stroke-linecap="round" />
<line x1="1212.3" y1="1669.96" x2="1219.3" y2="1669.96" stroke="#000" stroke-width="3" stroke-linecap="round" />
<line x1="1963.7" y1="1669.96" x2="1970.7" y2="1669.96" stroke="#000" stroke-width="3" stroke-linecap="round" />
<line x1="1212.3" y1="1661.17" x2="1219.3" y2="1661.17" stroke="#000" stroke-width="3" stroke-linecap="round" />
<line x1="1963.7" y1="1661.17" x2="1970.7" y2="1661.17" stroke="#000" stroke-width="3" stroke-linecap="round" />
<line x1="1206.8" y1="1653.3" x2="1219.3" y2="1653.3" stroke="#000" stroke-width="3" stroke-linecap="round" />
<line x1="1958.2" y1="1653.3" x2="1970.7" y2="1653.3" stroke="#000" stroke-width="3" stroke-linecap="round" />
<line x1="1212.3" y1="1601.55" x2="1219.3" y2="1601.55" stroke="#000" stroke-width="3" stroke-linecap="round" />
<line x1="1963.7" y1="1601.55" x2="1970.7" y2="1601.55" stroke="#000" stroke-width="3" stroke-linecap="round" />
<line x1="1212.3" y1="1571.28" x2="1219.3" y2="1571.28" stroke="#000" stroke-width="3" stroke-linecap="round" />
<line x1="1963.7" y1="1571.28" x2="1970.7" y2="1571.28" stroke="#000" stroke-width="3" stroke-linecap="round" />
<line x1="1212.3" y1="1549.81" x2="1219.3" y2="1549.81" stroke="#000" stroke-width="3" stroke-linecap="round" />
<line x1="1963.7" y1="1549.81" x2="1970.7" y2="1549.81" stroke="#000" stroke-width="3" stroke-linecap="round" />
<line x1="1212.3" y1="1533.15" x2="1219.3" y2="1533.15" stroke="#000" stroke-width="3" stroke-linecap="round" />
<line x1="1963.7" y1="1533.15" x2="1970.7" y2="1533.15" stroke="#000" stroke-width="3" stroke-linecap="round" />
<line x1="1212.3" y1="1519.54" x2="1219.3" y2="1519.54" stroke="#000" stroke-width="3" stroke-linecap="round" />
<line x1="1963.7" y1="1519.54" x2="1970.7" y2="1519.54" stroke="#000" stroke-width="3" stroke-linecap="round" />
<line x1="1212.3" y1="1508.03" x2="1219.3" y2="1508.03" stroke="#000" stroke-width="3" stroke-linecap="round" />
<line x1="1963.7" y1="1508.03" x2="1970.7" y2="1508.03" stroke="#000" stroke-width="3" stroke-linecap="round" />
<line x1="1212.3" y1="1498.06" x2="1219.3" y2="1498.06" stroke="#000" stroke-width="3" stroke-linecap="round" />
<line x1="1963.7" y1="1498.06" x2="1970.7" y2="1498.06" stroke="#000" stroke-width="3" stroke-linecap="round" />
<line x1="1212.3" y1="1489.27" x2="1219.3" y2="1489.27" stroke="#000" stroke-width="3" stroke-linecap="round" />
<line x1="1963.7" y1="1489.27" x2="1970.7" y2="1489.27" stroke="#000" stroke-width="3" stroke-linecap="round" />
<line x1="1206.8" y1="1481.4" x2="1219.3" y2="1481.4" stroke="#000" stroke-width="3" stroke-linecap="round" />
<line x1="1958.2" y1="1481.4" x2="1970.7" y2="1481.4" stroke="#000" stroke-width="3" stroke-linecap="round" />
<line x1="1212.3" y1="1429.65" x2="1219.3" y2="1429.65" stroke="#000" stroke-width="3" stroke-linecap="round" />
<line x1="1963.7" y1="1429.65" x2="1970.7" y2="1429.65" stroke="#000" stroke-width="3" stroke-linecap="round" />
<line x1="1212.3" y1="1399.38" x2="1219.3" y2="1399.38" stroke="#000" stroke-width="3" stroke-linecap="round" />
<line x1="1963.7" y1="1399.38" x2="1970.7" y2="1399.38" stroke="#000" stroke-width="3" stroke-linecap="round" />
<line x1="1212.3" y1="1377.91" x2="1219.3" y2="1377.91" stroke="#000" stroke-width="3" stroke-linecap="round" />
<line x1="1963.7" y1="1377.91" x2="1970.7" y2="1377.91" stroke="#000" stroke-width="3" stroke-linecap="round" />
<line x1="1212.3" y1="1361.25" x2="1219.3" y2="1361.25" stroke="#000" stroke-width="3" stroke-linecap="round" />
<line x1="1963.7" y1="1361.25" x2="1970.7" y2="1361.25" stroke="#000" stroke-width="3" stroke-linecap="round" />
<line x1="1212.3" y1="1347.64" x2="1219.3" y2="1347.64" stroke="#000" stroke-width="3" stroke-linecap="round" />
<line x1="1963.7" y1="1347.64" x2="1970.7" y2="1347.64" stroke="#000" stroke-width="3" stroke-linecap="round" />
<line x1="1212.3" y1="1336.13" x2="1219.3" y2="1336.13" stroke="#000" stroke-width="3" stroke-linecap="round" />
<line x1="1963.7" y1="1336.13" x2="1970.7" y2="1336.13" stroke="#000" stroke-width="3" stroke-linecap="round" />
<line x1="1212.3" y1="1326.16" x2="1219.3" y2="1326.16" stroke="#000" stroke-width="3" stroke-linecap="round" />
<line x1="1963.7" y1="1326.16" x2="1970.7" y2="1326.16" stroke="#000" stroke-width="3" stroke-linecap="round" />
<line x1="1212.3" y1="1317.37" x2="1219.3" y2="1317.37" stroke="#000" stroke-width="3" stroke-linecap="round" />
<line x1="1963.7" y1="1317.37" x2="1970.7" y2="1317.37" stroke="#000" stroke-width="3" stroke-linecap="round" />
<line x1="1206.8" y1="1309.5" x2="1219.3" y2="1309.5" stroke="#000" stroke-width="3" stroke-linecap="round" />
<line x1="1958.2" y1="1309.5" x2="1970.7" y2="1309.5" stroke="#000" stroke-width="3" stroke-linecap="round" />
</g>
<rect x="1219.3" y="1309.5" width="751.4" height="606" fill="none" stroke="#000" stroke-width="3"/>
<text x="1199.5" y="1318.7" font-family="'Liberation Sans', Arial, sans-serif" font-size="29" text-anchor="end" >1</text>
<text x="1199.5" y="1490.6" font-family="'Liberation Sans', Arial, sans-serif" font-size="29" text-anchor="end" >0.1</text>
<text x="1199.5" y="1662.5" font-family="'Liberation Sans', Arial, sans-serif" font-size="29" text-anchor="end" >0.01</text>
<text x="1199.5" y="1834.4" font-family="'Liberation Sans', Arial, sans-serif" font-size="29" text-anchor="end" >0.001</text>
<text x="1282.1" y="1956.9" font-family="'Liberation Sans', Arial, sans-serif" font-size="29" text-anchor="middle" >1</text>
<text x="1490.77" y="1956.9" font-family="'Liberation Sans', Arial, sans-serif" font-size="29" text-anchor="middle" >10</text>
<text x="1699.44" y="1956.9" font-family="'Liberation Sans', Arial, sans-serif" font-size="29" text-anchor="middle" >100</text>
<text x="1908.11" y="1956.9" font-family="'Liberation Sans', Arial, sans-serif" font-size="29" text-anchor="middle" >1000</text>
<text x="0" y="0" font-family="'Liberation Sans', Arial, sans-serif" font-size="40.5" text-anchor="middle" transform="translate(1107.4,1588.6) rotate(-90)">Current (mA)</text>
<text x="1596.3" y="2014.2" font-family="'Liberation Sans', Arial, sans-serif" font-size="40" text-anchor="middle" >Time (s)</text>
<text x="1006.5" y="2029" font-family="'Liberation Serif', 'Times New Roman', serif" font-size="50.5" >(f)</text>
<rect x="271.2" y="603.7" width="170.3" height="194.7" fill="#fff" stroke="#000" stroke-width="1.3"/>
<line x1="275.1" y1="625" x2="345.8" y2="625" stroke="#000000" stroke-width="2.3" stroke-linecap="round" />
<text x="353.5" y="635.9" font-family="'Liberation Sans', Arial, sans-serif" font-size="31" >Run 1</text>
<line x1="275.1" y1="663.2" x2="345.8" y2="663.2" stroke="#ff0000" stroke-width="2.3" stroke-linecap="round" />
<text x="353.5" y="674.1" font-family="'Liberation Sans', Arial, sans-serif" font-size="31" >Run 2</text>
<line x1="275.1" y1="701.1" x2="345.8" y2="701.1" stroke="#0000ff" stroke-width="2.3" stroke-linecap="round" />
<text x="353.5" y="712" font-family="'Liberation Sans', Arial, sans-serif" font-size="31" >Run 3</text>
<line x1="275.1" y1="739" x2="345.8" y2="739" stroke="#ff00ff" stroke-width="2.3" stroke-linecap="round" />
<text x="353.5" y="749.9" font-family="'Liberation Sans', Arial, sans-serif" font-size="31" >Run 4</text>
<line x1="275.1" y1="777" x2="345.8" y2="777" stroke="#008000" stroke-width="2.3" stroke-linecap="round" />
<text x="353.5" y="787.9" font-family="'Liberation Sans', Arial, sans-serif" font-size="31" >Run 5</text>
<rect x="1689.3" y="923.7" width="250.1" height="213.2" fill="#fff" stroke="#333" stroke-width="1.3"/>
<line x1="1693.3" y1="948" x2="1764.3" y2="948" stroke="#000" stroke-width="1.4" stroke-linecap="round" />
<text x="1771" y="959" font-size="31" font-family="'Liberation Sans', Arial, sans-serif"><tspan font-family="'Liberation Serif', 'Times New Roman', serif" font-size="32" font-style="italic">γ</tspan><tspan x="1785.2">=0.002 V/s</tspan></text>
<line x1="1693.3" y1="990.4" x2="1764.3" y2="990.4" stroke="#ff00ff" stroke-width="2.2" stroke-linecap="round" />
<text x="1771" y="1001.4" font-size="31" font-family="'Liberation Sans', Arial, sans-serif"><tspan font-family="'Liberation Serif', 'Times New Roman', serif" font-size="32" font-style="italic">γ</tspan><tspan x="1785.2">=0.001 V/s</tspan></text>
<line x1="1693.3" y1="1032" x2="1764.3" y2="1032" stroke="#000" stroke-width="2.4" stroke-linecap="round" />
<text x="1771" y="1043" font-size="31" font-family="'Liberation Sans', Arial, sans-serif"><tspan font-family="'Liberation Serif', 'Times New Roman', serif" font-size="32" font-style="italic">γ</tspan><tspan x="1785.2">=0.09 V/s</tspan></text>
<line x1="1693.3" y1="1073.7" x2="1764.3" y2="1073.7" stroke="#ff0000" stroke-width="2.2" stroke-linecap="round" />
<text x="1771" y="1084.7" font-size="31" font-family="'Liberation Sans', Arial, sans-serif"><tspan font-family="'Liberation Serif', 'Times New Roman', serif" font-size="32" font-style="italic">γ</tspan><tspan x="1785.2">=0.17 V/s</tspan></text>
<line x1="1693.3" y1="1115.7" x2="1764.3" y2="1115.7" stroke="#0000ff" stroke-width="2.2" stroke-linecap="round" />
<text x="1771" y="1126.7" font-size="31" font-family="'Liberation Sans', Arial, sans-serif"><tspan font-family="'Liberation Serif', 'Times New Roman', serif" font-size="32" font-style="italic">γ</tspan><tspan x="1785.2">=0.33 V/s</tspan></text>
<rect x="708.9" y="1612.9" width="234" height="289.4" fill="#fff" stroke="#333" stroke-width="1.3"/>
<line x1="712.6" y1="1634.3" x2="783.3" y2="1634.3" stroke="#000000" stroke-width="2.4" stroke-linecap="round" />
<text x="791.5" y="1645.4" font-family="'Liberation Sans', Arial, sans-serif" font-size="31" font-style="italic" >V</text>
<text x="812.6" y="1655.7" font-family="'Liberation Sans', Arial, sans-serif" font-size="19" font-style="italic" >max</text>
<text x="847.8" y="1645.4" font-family="'Liberation Sans', Arial, sans-serif" font-size="30.5" >=0.6 V</text>
<line x1="712.6" y1="1681.92" x2="783.3" y2="1681.92" stroke="#ff0000" stroke-width="2.4" stroke-linecap="round" />
<text x="791.5" y="1693.02" font-family="'Liberation Sans', Arial, sans-serif" font-size="31" font-style="italic" >V</text>
<text x="812.6" y="1703.32" font-family="'Liberation Sans', Arial, sans-serif" font-size="19" font-style="italic" >max</text>
<text x="847.8" y="1693.02" font-family="'Liberation Sans', Arial, sans-serif" font-size="30.5" >=0.5 V</text>
<line x1="712.6" y1="1729.54" x2="783.3" y2="1729.54" stroke="#0000ff" stroke-width="2.4" stroke-linecap="round" />
<text x="791.5" y="1740.64" font-family="'Liberation Sans', Arial, sans-serif" font-size="31" font-style="italic" >V</text>
<text x="812.6" y="1750.94" font-family="'Liberation Sans', Arial, sans-serif" font-size="19" font-style="italic" >max</text>
<text x="847.8" y="1740.64" font-family="'Liberation Sans', Arial, sans-serif" font-size="30.5" >=0.4 V</text>
<line x1="712.6" y1="1777.16" x2="783.3" y2="1777.16" stroke="#ff00ff" stroke-width="2.4" stroke-linecap="round" />
<text x="791.5" y="1788.26" font-family="'Liberation Sans', Arial, sans-serif" font-size="31" font-style="italic" >V</text>
<text x="812.6" y="1798.56" font-family="'Liberation Sans', Arial, sans-serif" font-size="19" font-style="italic" >max</text>
<text x="847.8" y="1788.26" font-family="'Liberation Sans', Arial, sans-serif" font-size="30.5" >=0.3 V</text>
<line x1="712.6" y1="1824.78" x2="783.3" y2="1824.78" stroke="#008000" stroke-width="2.4" stroke-linecap="round" />
<text x="791.5" y="1835.88" font-family="'Liberation Sans', Arial, sans-serif" font-size="31" font-style="italic" >V</text>
<text x="812.6" y="1846.18" font-family="'Liberation Sans', Arial, sans-serif" font-size="19" font-style="italic" >max</text>
<text x="847.8" y="1835.88" font-family="'Liberation Sans', Arial, sans-serif" font-size="30.5" >=0.2 V</text>
<line x1="712.6" y1="1872.4" x2="783.3" y2="1872.4" stroke="#8000ff" stroke-width="2.4" stroke-linecap="round" />
<text x="791.5" y="1883.5" font-family="'Liberation Sans', Arial, sans-serif" font-size="31" font-style="italic" >V</text>
<text x="812.6" y="1893.8" font-family="'Liberation Sans', Arial, sans-serif" font-size="19" font-style="italic" >max</text>
<text x="847.8" y="1883.5" font-family="'Liberation Sans', Arial, sans-serif" font-size="30.5" >=0.1 V</text>
<rect x="1255.3" y="1784.1" width="661.2" height="102.2" fill="#fff" stroke="#000" stroke-width="1.4"/>
<line x1="1259.3" y1="1805.4" x2="1330.3" y2="1805.4" stroke="#000" stroke-width="2.3" stroke-linecap="round" />
<circle cx="1294.6" cy="1805.4" r="3.8" fill="#ff7f00"/>
<text x="1338.8" y="1815.4" font-family="'Liberation Sans', Arial, sans-serif" font-size="31.3" font-style="italic" >V</text>
<text x="1358.8" y="1826" font-family="'Liberation Sans', Arial, sans-serif" font-size="19.5" >0</text>
<text x="1368.3" y="1815.4" font-family="'Liberation Sans', Arial, sans-serif" font-size="31.3" >=0.1 V</text>
<line x1="1485" y1="1805.4" x2="1556" y2="1805.4" stroke="#00ff00" stroke-width="2.3" stroke-linecap="round" />
<rect x="1516.5" y="1801.6" width="7.6" height="7.6" fill="#00ff00"/>
<text x="1564.5" y="1815.4" font-family="'Liberation Sans', Arial, sans-serif" font-size="31.3" font-style="italic" >V</text>
<text x="1584.5" y="1826" font-family="'Liberation Sans', Arial, sans-serif" font-size="19.5" >0</text>
<text x="1594" y="1815.4" font-family="'Liberation Sans', Arial, sans-serif" font-size="31.3" >=0.2 V</text>
<line x1="1711.6" y1="1805.4" x2="1782.6" y2="1805.4" stroke="#0000ff" stroke-width="2.3" stroke-linecap="round" />
<rect x="1743.1" y="1801.6" width="7.6" height="7.6" fill="#0000ff"/>
<text x="1790.2" y="1815.4" font-family="'Liberation Sans', Arial, sans-serif" font-size="31.3" font-style="italic" >V</text>
<text x="1810.2" y="1826" font-family="'Liberation Sans', Arial, sans-serif" font-size="19.5" >0</text>
<text x="1819.7" y="1815.4" font-family="'Liberation Sans', Arial, sans-serif" font-size="31.3" >=0.3 V</text>
<line x1="1259.3" y1="1856.1" x2="1330.3" y2="1856.1" stroke="#8000ff" stroke-width="2.3" stroke-linecap="round" />
<rect x="1290.8" y="1852.3" width="7.6" height="7.6" fill="#8000ff"/>
<text x="1338.8" y="1866.1" font-family="'Liberation Sans', Arial, sans-serif" font-size="31.3" font-style="italic" >V</text>
<text x="1358.8" y="1876.7" font-family="'Liberation Sans', Arial, sans-serif" font-size="19.5" >0</text>
<text x="1368.3" y="1866.1" font-family="'Liberation Sans', Arial, sans-serif" font-size="31.3">=0.6 V<tspan font-family="DejaVu Serif" font-size="33">→</tspan> 0.2 V</text>
<line x1="1708.7" y1="1856.1" x2="1779.7" y2="1856.1" stroke="#ff00ff" stroke-width="2.3" stroke-linecap="round" />
<rect x="1740.2" y="1852.3" width="7.6" height="7.6" fill="#ff00ff"/>
<text x="1787.2" y="1866.1" font-family="'Liberation Sans', Arial, sans-serif" font-size="31.3" font-style="italic" >V</text>
<text x="1807.2" y="1876.7" font-family="'Liberation Sans', Arial, sans-serif" font-size="19.5" >0</text>
<text x="1816.7" y="1866.1" font-family="'Liberation Sans', Arial, sans-serif" font-size="31.3" >=0.4 V</text>
<line x1="636" y1="858.5" x2="636" y2="1159" stroke="#b4b4b4" stroke-width="2" stroke-linecap="butt" stroke-dasharray="8,6.6"/>
<line x1="740.4" y1="813.7" x2="740.4" y2="1159" stroke="#b4b4b4" stroke-width="2" stroke-linecap="butt" stroke-dasharray="8,6.6"/>
<line x1="460.4" y1="853.8" x2="499.04" y2="842.49" stroke="#000" stroke-width="1.6" stroke-linecap="butt" />
<polygon points="512,838.7 498.3,847.08 495.94,839.02" fill="#000"/>
<text x="463" y="837.8" font-family="'Liberation Sans', Arial, sans-serif" font-size="25" >4</text>
<line x1="522.7" y1="923.5" x2="501.28" y2="947.52" stroke="#000" stroke-width="1.6" stroke-linecap="butt" />
<polygon points="492.3,957.6 499.48,943.24 505.75,948.83" fill="#000"/>
<text x="516" y="953" font-family="'Liberation Sans', Arial, sans-serif" font-size="25" >3</text>
<line x1="682.6" y1="790.5" x2="704.36" y2="763.34" stroke="#000" stroke-width="1.6" stroke-linecap="butt" />
<polygon points="712.8,752.8 706.39,767.52 699.83,762.27" fill="#000"/>
<text x="675.5" y="767.9" font-family="'Liberation Sans', Arial, sans-serif" font-size="25" >1</text>
<line x1="728.4" y1="870.3" x2="691.03" y2="876.27" stroke="#000" stroke-width="1.6" stroke-linecap="butt" />
<polygon points="677.7,878.4 692.34,871.81 693.67,880.1" fill="#000"/>
<text x="702" y="902.6" font-family="'Liberation Sans', Arial, sans-serif" font-size="25" >2</text>
<text x="352.2" y="900.9" font-family="'Liberation Serif', 'Times New Roman', serif" font-size="31.5" font-weight="bold" >off</text>
<text x="786.8" y="847.4" font-family="'Liberation Serif', 'Times New Roman', serif" font-size="32.5" font-weight="bold" >off</text>
<text x="522.8" y="911.9" font-family="'Liberation Serif', 'Times New Roman', serif" font-size="25.5" font-weight="bold" >on</text>
<text x="646.8" y="810.7" font-family="'Liberation Serif', 'Times New Roman', serif" font-size="25.5" font-weight="bold" >on</text>
<text x="648.8" y="1058.5" font-family="'Liberation Serif', 'Times New Roman', serif" font-size="42" font-style="italic" >V</text>
<text x="670.8" y="1072" font-family="'Liberation Serif', 'Times New Roman', serif" font-size="25" font-style="italic" >on</text>
<text x="746.8" y="1058.5" font-family="'Liberation Serif', 'Times New Roman', serif" font-size="42" font-style="italic" >V</text>
<text x="768.8" y="1072" font-family="'Liberation Serif', 'Times New Roman', serif" font-size="25" font-style="italic" >off</text>
<rect x="391.6" y="976" width="225.6" height="163.7" fill="#fff" stroke="#333" stroke-width="1.3"/>
<line x1="434.9" y1="1133.6" x2="434.9" y2="1003" stroke="#000" stroke-width="2.3" stroke-linecap="round" />
<polygon points="434.9,987.7 430.1,1004.8 439.7,1004.8" fill="#000"/>
<line x1="423.5" y1="1067.1" x2="595" y2="1067.1" stroke="#000" stroke-width="2.3" stroke-linecap="round" />
<polygon points="611.1,1067.1 593.4,1062.3 593.4,1071.9" fill="#000"/>
<polyline points="434.6,1067 474.7,1006.7 509.8,1067 544.4,1127 584.6,1068" fill="none" stroke="#ff0000" stroke-width="2.4"/>
<text x="441" y="1024.4" font-family="'Liberation Sans', Arial, sans-serif" font-size="24" >1</text>
<text x="497.4" y="1036.7" font-family="'Liberation Sans', Arial, sans-serif" font-size="24" >2</text>
<text x="502.8" y="1109.6" font-family="'Liberation Sans', Arial, sans-serif" font-size="24" >3</text>
<text x="568.8" y="1118.5" font-family="'Liberation Sans', Arial, sans-serif" font-size="24" >4</text>
<text x="554" y="1054.9" font-family="'Liberation Sans', Arial, sans-serif" font-size="23.4" >Time</text>
<text x="0" y="0" font-family="'Liberation Sans', Arial, sans-serif" font-size="22.7" text-anchor="middle" transform="translate(415.3,1064.2) rotate(-90)">Voltage</text>
</svg>
</body></html>
